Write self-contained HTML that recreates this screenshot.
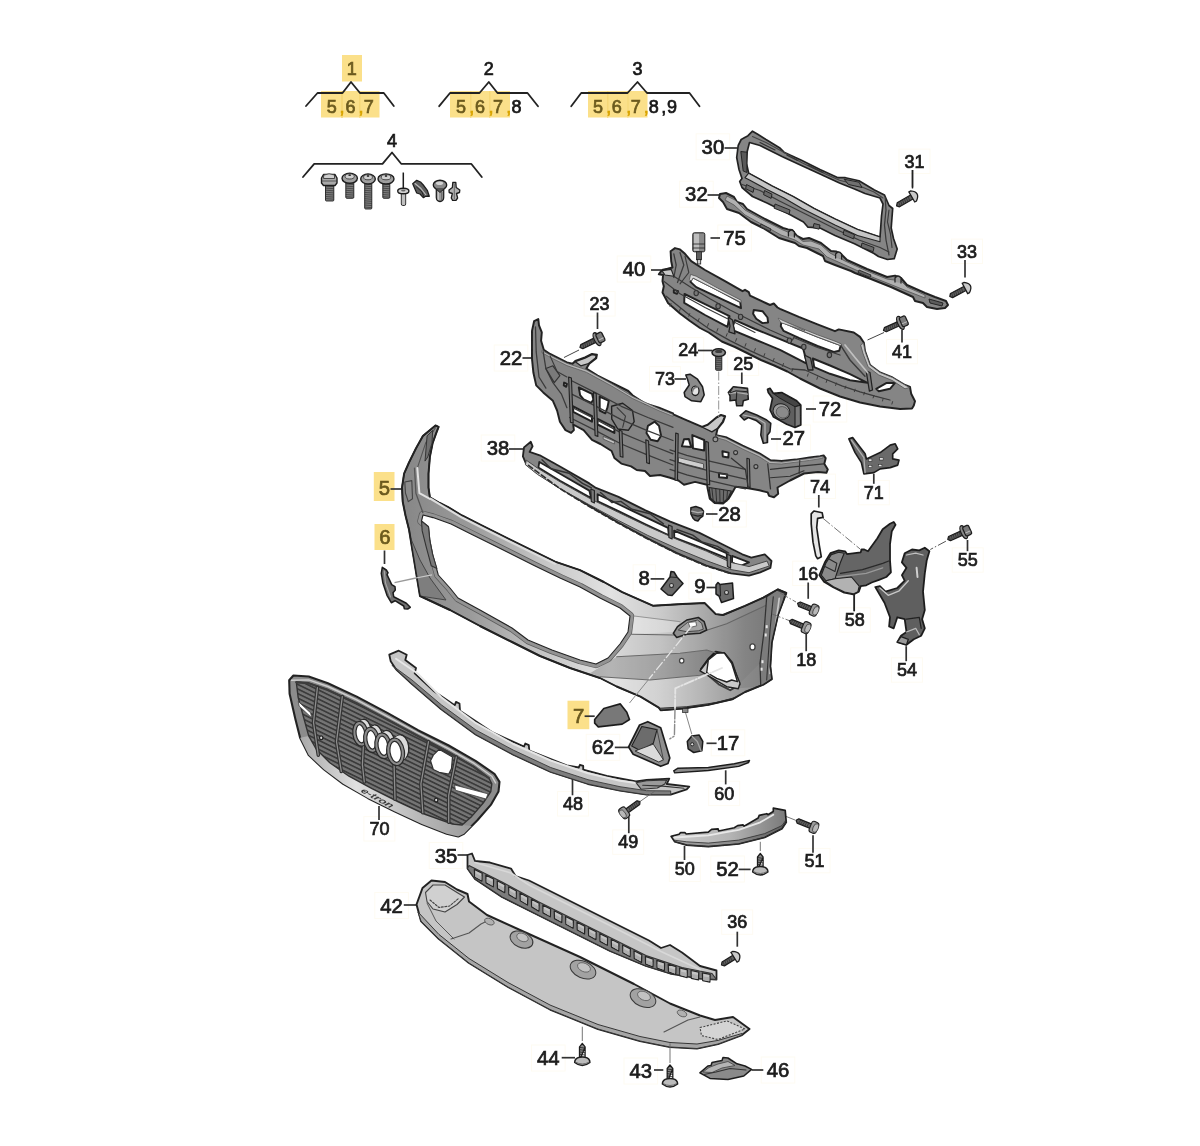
<!DOCTYPE html>
<html><head><meta charset="utf-8"><title>Parts diagram</title>
<style>
html,body{margin:0;padding:0;background:#fff;}
body{width:1200px;height:1146px;overflow:hidden;font-family:"Liberation Sans",sans-serif;}
svg{display:block;}
svg text{font-family:"Liberation Sans",sans-serif;}
</style></head><body>
<svg width="1200" height="1146" viewBox="0 0 1200 1146">
<defs><filter id="soft" x="0" y="0" width="100%" height="100%" filterUnits="userSpaceOnUse"><feGaussianBlur stdDeviation="0.45"/></filter></defs>
<rect x="0" y="0" width="1200" height="1146" fill="#ffffff"/>
<g filter="url(#soft)">
<rect x="342.0" y="55.0" width="20.0" height="26.5" fill="#fbe08a" stroke="none" stroke-width="0" />
<rect x="321.0" y="91.0" width="22.0" height="26.5" fill="#fbe08a" stroke="none" stroke-width="0" />
<rect x="341.0" y="91.0" width="19.5" height="26.5" fill="#fbe08a" stroke="none" stroke-width="0" />
<rect x="359.0" y="91.0" width="20.5" height="26.5" fill="#fbe08a" stroke="none" stroke-width="0" />
<rect x="341.0" y="91.0" width="2.0" height="26.5" fill="#f6d777" stroke="none" stroke-width="0" />
<rect x="359.0" y="91.0" width="1.5" height="26.5" fill="#f6d777" stroke="none" stroke-width="0" />
<polyline points="306.0,106.0 317.5,93.0 342.5,93.0 351.0,82.0 360.0,93.0 383.8,93.0 393.8,106.0" fill="none" stroke="#232323" stroke-width="1.8199999999999998" stroke-linejoin="round" stroke-linecap="round" />
<text x="351.8" y="75.2" font-size="18.0" text-anchor="middle" fill="#6b5a1e" stroke="#6b5a1e" stroke-width="0.72" >1</text>
<text x="331.8" y="112.5" font-size="18.0" text-anchor="middle" fill="#6b5a1e" stroke="#6b5a1e" stroke-width="0.72" >5</text>
<text x="350.5" y="112.5" font-size="18.0" text-anchor="middle" fill="#6b5a1e" stroke="#6b5a1e" stroke-width="0.72" >6</text>
<text x="368.8" y="112.5" font-size="18.0" text-anchor="middle" fill="#6b5a1e" stroke="#6b5a1e" stroke-width="0.72" >7</text>
<text x="342.0" y="112.5" font-size="18.0" text-anchor="middle" fill="#d9a400" stroke="#d9a400" stroke-width="0.72" >,</text>
<text x="361.0" y="112.5" font-size="18.0" text-anchor="middle" fill="#d9a400" stroke="#d9a400" stroke-width="0.72" >,</text>
<rect x="450.0" y="91.0" width="21.0" height="26.5" fill="#fbe08a" stroke="none" stroke-width="0" />
<rect x="470.0" y="91.0" width="20.0" height="26.5" fill="#fbe08a" stroke="none" stroke-width="0" />
<rect x="489.0" y="91.0" width="21.0" height="26.5" fill="#fbe08a" stroke="none" stroke-width="0" />
<rect x="470.0" y="91.0" width="1.5" height="26.5" fill="#f6d777" stroke="none" stroke-width="0" />
<rect x="489.0" y="91.0" width="1.5" height="26.5" fill="#f6d777" stroke="none" stroke-width="0" />
<polyline points="439.2,106.2 450.0,93.0 479.5,93.0 488.8,82.0 497.5,93.0 527.5,93.0 538.0,106.2" fill="none" stroke="#232323" stroke-width="1.8199999999999998" stroke-linejoin="round" stroke-linecap="round" />
<text x="488.8" y="75.2" font-size="18.0" text-anchor="middle" fill="#1a1a1a" stroke="#1a1a1a" stroke-width="0.72" >2</text>
<text x="461.0" y="112.5" font-size="18.0" text-anchor="middle" fill="#6b5a1e" stroke="#6b5a1e" stroke-width="0.72" >5</text>
<text x="480.0" y="112.5" font-size="18.0" text-anchor="middle" fill="#6b5a1e" stroke="#6b5a1e" stroke-width="0.72" >6</text>
<text x="498.0" y="112.5" font-size="18.0" text-anchor="middle" fill="#6b5a1e" stroke="#6b5a1e" stroke-width="0.72" >7</text>
<text x="471.8" y="112.5" font-size="18.0" text-anchor="middle" fill="#d9a400" stroke="#d9a400" stroke-width="0.72" >,</text>
<text x="491.0" y="112.5" font-size="18.0" text-anchor="middle" fill="#d9a400" stroke="#d9a400" stroke-width="0.72" >,</text>
<text x="508.8" y="112.5" font-size="18.0" text-anchor="middle" fill="#d9a400" stroke="#d9a400" stroke-width="0.72" >,</text>
<text x="516.5" y="112.5" font-size="18.0" text-anchor="middle" fill="#1a1a1a" stroke="#1a1a1a" stroke-width="0.72" >8</text>
<rect x="588.0" y="91.0" width="20.0" height="26.5" fill="#fbe08a" stroke="none" stroke-width="0" />
<rect x="607.0" y="91.0" width="21.0" height="26.5" fill="#fbe08a" stroke="none" stroke-width="0" />
<rect x="627.5" y="91.0" width="20.0" height="26.5" fill="#fbe08a" stroke="none" stroke-width="0" />
<rect x="607.0" y="91.0" width="1.5" height="26.5" fill="#f6d777" stroke="none" stroke-width="0" />
<rect x="627.5" y="91.0" width="1.0" height="26.5" fill="#f6d777" stroke="none" stroke-width="0" />
<polyline points="571.2,106.2 581.2,93.0 627.5,93.0 637.5,82.0 647.0,93.0 689.5,93.0 699.5,106.2" fill="none" stroke="#232323" stroke-width="1.8199999999999998" stroke-linejoin="round" stroke-linecap="round" />
<text x="637.5" y="75.2" font-size="18.0" text-anchor="middle" fill="#1a1a1a" stroke="#1a1a1a" stroke-width="0.72" >3</text>
<text x="598.0" y="112.5" font-size="18.0" text-anchor="middle" fill="#6b5a1e" stroke="#6b5a1e" stroke-width="0.72" >5</text>
<text x="616.8" y="112.5" font-size="18.0" text-anchor="middle" fill="#6b5a1e" stroke="#6b5a1e" stroke-width="0.72" >6</text>
<text x="635.8" y="112.5" font-size="18.0" text-anchor="middle" fill="#6b5a1e" stroke="#6b5a1e" stroke-width="0.72" >7</text>
<text x="608.8" y="112.5" font-size="18.0" text-anchor="middle" fill="#d9a400" stroke="#d9a400" stroke-width="0.72" >,</text>
<text x="628.8" y="112.5" font-size="18.0" text-anchor="middle" fill="#d9a400" stroke="#d9a400" stroke-width="0.72" >,</text>
<text x="646.2" y="112.5" font-size="18.0" text-anchor="middle" fill="#d9a400" stroke="#d9a400" stroke-width="0.72" >,</text>
<text x="653.8" y="112.5" font-size="18.0" text-anchor="middle" fill="#1a1a1a" stroke="#1a1a1a" stroke-width="0.72" >8</text>
<text x="663.8" y="112.5" font-size="18.0" text-anchor="middle" fill="#1a1a1a" stroke="#1a1a1a" stroke-width="0.72" >,</text>
<text x="672.0" y="112.5" font-size="18.0" text-anchor="middle" fill="#1a1a1a" stroke="#1a1a1a" stroke-width="0.72" >9</text>
<polyline points="303.0,177.0 314.2,163.8 382.5,163.8 392.0,152.5 401.2,163.8 471.2,163.8 481.8,177.0" fill="none" stroke="#232323" stroke-width="1.8199999999999998" stroke-linejoin="round" stroke-linecap="round" />
<text x="392.0" y="146.5" font-size="18.0" text-anchor="middle" fill="#1a1a1a" stroke="#1a1a1a" stroke-width="0.72" >4</text>
<rect x="373.8" y="472.0" width="20.7" height="29.0" fill="#fbe08a" stroke="none" stroke-width="0" />
<text x="384.5" y="495.0" font-size="20.3" text-anchor="middle" fill="#6b5a1e" stroke="#6b5a1e" stroke-width="0.72" >5</text>
<rect x="374.5" y="524.0" width="20.0" height="26.0" fill="#fbe08a" stroke="none" stroke-width="0" />
<text x="384.8" y="544.0" font-size="20.3" text-anchor="middle" fill="#6b5a1e" stroke="#6b5a1e" stroke-width="0.72" >6</text>
<rect x="567.5" y="700.7" width="21.8" height="28.5" fill="#fbe08a" stroke="none" stroke-width="0" />
<text x="578.6" y="723.3" font-size="20.3" text-anchor="middle" fill="#6b5a1e" stroke="#6b5a1e" stroke-width="0.72" >7</text>
<line x1="390.5" y1="489.0" x2="402.5" y2="489.0" stroke="#333" stroke-width="1.7" />
<line x1="384.5" y1="550.5" x2="384.5" y2="564.0" stroke="#333" stroke-width="1.7" />
<line x1="584.6" y1="716.2" x2="594.7" y2="716.2" stroke="#333" stroke-width="1.7" />
<rect x="696.1" y="133.8" width="33.6" height="26.0" fill="none" stroke="#fefbf2" stroke-width="1" />
<rect x="899.0" y="149.1" width="31.0" height="24.4" fill="none" stroke="#fefbf2" stroke-width="1" />
<rect x="679.6" y="181.2" width="33.6" height="26.0" fill="none" stroke="#fefbf2" stroke-width="1" />
<rect x="951.5" y="239.1" width="31.0" height="24.4" fill="none" stroke="#fefbf2" stroke-width="1" />
<rect x="717.8" y="225.0" width="33.6" height="26.0" fill="none" stroke="#fefbf2" stroke-width="1" />
<rect x="617.2" y="256.0" width="33.6" height="26.0" fill="none" stroke="#fefbf2" stroke-width="1" />
<rect x="886.5" y="339.4" width="31.0" height="24.4" fill="none" stroke="#fefbf2" stroke-width="1" />
<rect x="584.1" y="291.6" width="31.0" height="24.4" fill="none" stroke="#fefbf2" stroke-width="1" />
<rect x="494.2" y="345.0" width="33.6" height="26.0" fill="none" stroke="#fefbf2" stroke-width="1" />
<rect x="672.7" y="337.6" width="31.0" height="24.4" fill="none" stroke="#fefbf2" stroke-width="1" />
<rect x="727.7" y="351.1" width="31.0" height="24.4" fill="none" stroke="#fefbf2" stroke-width="1" />
<rect x="649.5" y="366.6" width="31.0" height="24.4" fill="none" stroke="#fefbf2" stroke-width="1" />
<rect x="813.2" y="396.0" width="33.6" height="26.0" fill="none" stroke="#fefbf2" stroke-width="1" />
<rect x="777.0" y="425.0" width="33.6" height="26.0" fill="none" stroke="#fefbf2" stroke-width="1" />
<rect x="481.2" y="435.0" width="33.6" height="26.0" fill="none" stroke="#fefbf2" stroke-width="1" />
<rect x="712.7" y="501.0" width="33.6" height="26.0" fill="none" stroke="#fefbf2" stroke-width="1" />
<rect x="858.3" y="480.4" width="31.0" height="24.4" fill="none" stroke="#fefbf2" stroke-width="1" />
<rect x="804.5" y="474.1" width="31.0" height="24.4" fill="none" stroke="#fefbf2" stroke-width="1" />
<rect x="633.1" y="564.8" width="22.3" height="26.0" fill="none" stroke="#fefbf2" stroke-width="1" />
<rect x="688.9" y="573.0" width="22.3" height="26.0" fill="none" stroke="#fefbf2" stroke-width="1" />
<rect x="792.7" y="561.1" width="31.0" height="24.4" fill="none" stroke="#fefbf2" stroke-width="1" />
<rect x="790.7" y="647.8" width="31.0" height="24.4" fill="none" stroke="#fefbf2" stroke-width="1" />
<rect x="952.2" y="547.8" width="31.0" height="24.4" fill="none" stroke="#fefbf2" stroke-width="1" />
<rect x="839.3" y="607.8" width="31.0" height="24.4" fill="none" stroke="#fefbf2" stroke-width="1" />
<rect x="891.4" y="657.8" width="31.0" height="24.4" fill="none" stroke="#fefbf2" stroke-width="1" />
<rect x="586.2" y="734.3" width="33.6" height="26.0" fill="none" stroke="#fefbf2" stroke-width="1" />
<rect x="711.2" y="729.8" width="33.6" height="26.0" fill="none" stroke="#fefbf2" stroke-width="1" />
<rect x="708.7" y="781.2" width="31.0" height="24.4" fill="none" stroke="#fefbf2" stroke-width="1" />
<rect x="557.5" y="791.6" width="31.0" height="24.4" fill="none" stroke="#fefbf2" stroke-width="1" />
<rect x="612.7" y="829.9" width="31.0" height="24.4" fill="none" stroke="#fefbf2" stroke-width="1" />
<rect x="363.9" y="816.6" width="31.0" height="24.4" fill="none" stroke="#fefbf2" stroke-width="1" />
<rect x="669.3" y="857.0" width="31.0" height="24.4" fill="none" stroke="#fefbf2" stroke-width="1" />
<rect x="710.8" y="856.0" width="33.6" height="26.0" fill="none" stroke="#fefbf2" stroke-width="1" />
<rect x="799.0" y="848.4" width="31.0" height="24.4" fill="none" stroke="#fefbf2" stroke-width="1" />
<rect x="429.2" y="842.5" width="33.6" height="26.0" fill="none" stroke="#fefbf2" stroke-width="1" />
<rect x="374.8" y="892.5" width="33.6" height="26.0" fill="none" stroke="#fefbf2" stroke-width="1" />
<rect x="721.7" y="909.9" width="31.0" height="24.4" fill="none" stroke="#fefbf2" stroke-width="1" />
<rect x="531.5" y="1045.0" width="33.6" height="26.0" fill="none" stroke="#fefbf2" stroke-width="1" />
<rect x="624.0" y="1058.0" width="33.6" height="26.0" fill="none" stroke="#fefbf2" stroke-width="1" />
<rect x="761.2" y="1057.0" width="33.6" height="26.0" fill="none" stroke="#fefbf2" stroke-width="1" />
<text x="712.9" y="153.8" font-size="20.3" text-anchor="middle" fill="#1c1c1c" stroke="#1c1c1c" stroke-width="0.72" >30</text>
<text x="914.5" y="167.5" font-size="18.0" text-anchor="middle" fill="#1c1c1c" stroke="#1c1c1c" stroke-width="0.72" >31</text>
<text x="696.4" y="201.2" font-size="20.3" text-anchor="middle" fill="#1c1c1c" stroke="#1c1c1c" stroke-width="0.72" >32</text>
<text x="967.0" y="257.5" font-size="18.0" text-anchor="middle" fill="#1c1c1c" stroke="#1c1c1c" stroke-width="0.72" >33</text>
<text x="734.6" y="245.0" font-size="20.3" text-anchor="middle" fill="#1c1c1c" stroke="#1c1c1c" stroke-width="0.72" >75</text>
<text x="634.0" y="276.0" font-size="20.3" text-anchor="middle" fill="#1c1c1c" stroke="#1c1c1c" stroke-width="0.72" >40</text>
<text x="902.0" y="357.8" font-size="18.0" text-anchor="middle" fill="#1c1c1c" stroke="#1c1c1c" stroke-width="0.72" >41</text>
<text x="599.6" y="310.0" font-size="18.0" text-anchor="middle" fill="#1c1c1c" stroke="#1c1c1c" stroke-width="0.72" >23</text>
<text x="511.0" y="365.0" font-size="20.3" text-anchor="middle" fill="#1c1c1c" stroke="#1c1c1c" stroke-width="0.72" >22</text>
<text x="688.2" y="356.0" font-size="18.0" text-anchor="middle" fill="#1c1c1c" stroke="#1c1c1c" stroke-width="0.72" >24</text>
<text x="743.2" y="369.5" font-size="18.0" text-anchor="middle" fill="#1c1c1c" stroke="#1c1c1c" stroke-width="0.72" >25</text>
<text x="665.0" y="385.0" font-size="18.0" text-anchor="middle" fill="#1c1c1c" stroke="#1c1c1c" stroke-width="0.72" >73</text>
<text x="830.0" y="416.0" font-size="20.3" text-anchor="middle" fill="#1c1c1c" stroke="#1c1c1c" stroke-width="0.72" >72</text>
<text x="793.8" y="445.0" font-size="20.3" text-anchor="middle" fill="#1c1c1c" stroke="#1c1c1c" stroke-width="0.72" >27</text>
<text x="498.0" y="455.0" font-size="20.3" text-anchor="middle" fill="#1c1c1c" stroke="#1c1c1c" stroke-width="0.72" >38</text>
<text x="729.5" y="521.0" font-size="20.3" text-anchor="middle" fill="#1c1c1c" stroke="#1c1c1c" stroke-width="0.72" >28</text>
<text x="873.8" y="498.8" font-size="18.0" text-anchor="middle" fill="#1c1c1c" stroke="#1c1c1c" stroke-width="0.72" >71</text>
<text x="820.0" y="492.5" font-size="18.0" text-anchor="middle" fill="#1c1c1c" stroke="#1c1c1c" stroke-width="0.72" >74</text>
<text x="644.2" y="584.8" font-size="20.3" text-anchor="middle" fill="#1c1c1c" stroke="#1c1c1c" stroke-width="0.72" >8</text>
<text x="700.0" y="593.0" font-size="20.3" text-anchor="middle" fill="#1c1c1c" stroke="#1c1c1c" stroke-width="0.72" >9</text>
<text x="808.2" y="579.5" font-size="18.0" text-anchor="middle" fill="#1c1c1c" stroke="#1c1c1c" stroke-width="0.72" >16</text>
<text x="806.2" y="666.2" font-size="18.0" text-anchor="middle" fill="#1c1c1c" stroke="#1c1c1c" stroke-width="0.72" >18</text>
<text x="967.7" y="566.2" font-size="18.0" text-anchor="middle" fill="#1c1c1c" stroke="#1c1c1c" stroke-width="0.72" >55</text>
<text x="854.8" y="626.2" font-size="18.0" text-anchor="middle" fill="#1c1c1c" stroke="#1c1c1c" stroke-width="0.72" >58</text>
<text x="906.9" y="676.2" font-size="18.0" text-anchor="middle" fill="#1c1c1c" stroke="#1c1c1c" stroke-width="0.72" >54</text>
<text x="603.0" y="754.3" font-size="20.3" text-anchor="middle" fill="#1c1c1c" stroke="#1c1c1c" stroke-width="0.72" >62</text>
<text x="728.0" y="749.8" font-size="20.3" text-anchor="middle" fill="#1c1c1c" stroke="#1c1c1c" stroke-width="0.72" >17</text>
<text x="724.2" y="799.6" font-size="18.0" text-anchor="middle" fill="#1c1c1c" stroke="#1c1c1c" stroke-width="0.72" >60</text>
<text x="573.0" y="810.0" font-size="18.0" text-anchor="middle" fill="#1c1c1c" stroke="#1c1c1c" stroke-width="0.72" >48</text>
<text x="628.2" y="848.3" font-size="18.0" text-anchor="middle" fill="#1c1c1c" stroke="#1c1c1c" stroke-width="0.72" >49</text>
<text x="379.4" y="835.0" font-size="18.0" text-anchor="middle" fill="#1c1c1c" stroke="#1c1c1c" stroke-width="0.72" >70</text>
<text x="684.8" y="875.4" font-size="18.0" text-anchor="middle" fill="#1c1c1c" stroke="#1c1c1c" stroke-width="0.72" >50</text>
<text x="727.6" y="876.0" font-size="20.3" text-anchor="middle" fill="#1c1c1c" stroke="#1c1c1c" stroke-width="0.72" >52</text>
<text x="814.5" y="866.8" font-size="18.0" text-anchor="middle" fill="#1c1c1c" stroke="#1c1c1c" stroke-width="0.72" >51</text>
<text x="446.0" y="862.5" font-size="20.3" text-anchor="middle" fill="#1c1c1c" stroke="#1c1c1c" stroke-width="0.72" >35</text>
<text x="391.6" y="912.5" font-size="20.3" text-anchor="middle" fill="#1c1c1c" stroke="#1c1c1c" stroke-width="0.72" >42</text>
<text x="737.2" y="928.3" font-size="18.0" text-anchor="middle" fill="#1c1c1c" stroke="#1c1c1c" stroke-width="0.72" >36</text>
<text x="548.3" y="1065.0" font-size="20.3" text-anchor="middle" fill="#1c1c1c" stroke="#1c1c1c" stroke-width="0.72" >44</text>
<text x="640.8" y="1078.0" font-size="20.3" text-anchor="middle" fill="#1c1c1c" stroke="#1c1c1c" stroke-width="0.72" >43</text>
<text x="778.0" y="1077.0" font-size="20.3" text-anchor="middle" fill="#1c1c1c" stroke="#1c1c1c" stroke-width="0.72" >46</text>
<line x1="724.5" y1="148.0" x2="737.5" y2="148.0" stroke="#333333" stroke-width="1.7" />
<line x1="912.5" y1="170.0" x2="912.5" y2="187.5" stroke="#333333" stroke-width="1.7" />
<line x1="707.5" y1="195.0" x2="720.0" y2="195.0" stroke="#333333" stroke-width="1.7" />
<line x1="965.0" y1="260.0" x2="965.0" y2="277.5" stroke="#333333" stroke-width="1.7" />
<line x1="710.5" y1="238.0" x2="720.0" y2="238.0" stroke="#333333" stroke-width="1.7" />
<line x1="651.0" y1="270.0" x2="661.0" y2="270.0" stroke="#333333" stroke-width="1.7" />
<line x1="902.0" y1="330.0" x2="902.0" y2="342.5" stroke="#333333" stroke-width="1.7" />
<line x1="597.5" y1="312.5" x2="597.5" y2="329.0" stroke="#333333" stroke-width="1.7" />
<line x1="522.5" y1="358.0" x2="532.5" y2="358.0" stroke="#333333" stroke-width="1.7" />
<line x1="698.0" y1="350.5" x2="712.5" y2="350.5" stroke="#333333" stroke-width="1.7" />
<line x1="741.8" y1="372.5" x2="741.8" y2="384.0" stroke="#333333" stroke-width="1.7" />
<line x1="674.5" y1="379.0" x2="686.0" y2="379.0" stroke="#333333" stroke-width="1.7" />
<line x1="806.0" y1="409.0" x2="816.0" y2="409.0" stroke="#333333" stroke-width="1.7" />
<line x1="771.0" y1="439.0" x2="781.0" y2="439.0" stroke="#333333" stroke-width="1.7" />
<line x1="509.0" y1="449.0" x2="523.0" y2="449.0" stroke="#333333" stroke-width="1.7" />
<line x1="706.0" y1="514.0" x2="717.5" y2="514.0" stroke="#333333" stroke-width="1.7" />
<line x1="873.8" y1="473.8" x2="873.8" y2="483.8" stroke="#333333" stroke-width="1.7" />
<line x1="818.8" y1="495.0" x2="818.8" y2="507.5" stroke="#333333" stroke-width="1.7" />
<line x1="650.6" y1="578.9" x2="664.3" y2="578.9" stroke="#333333" stroke-width="1.7" />
<line x1="706.5" y1="587.5" x2="716.6" y2="587.5" stroke="#333333" stroke-width="1.7" />
<line x1="808.2" y1="582.5" x2="808.2" y2="598.8" stroke="#333333" stroke-width="1.7" />
<line x1="806.2" y1="633.8" x2="806.2" y2="651.2" stroke="#333333" stroke-width="1.7" />
<line x1="967.5" y1="540.0" x2="967.5" y2="551.2" stroke="#333333" stroke-width="1.7" />
<line x1="854.2" y1="593.8" x2="854.2" y2="611.2" stroke="#333333" stroke-width="1.7" />
<line x1="906.2" y1="646.2" x2="906.2" y2="661.2" stroke="#333333" stroke-width="1.7" />
<line x1="614.8" y1="747.4" x2="628.6" y2="747.4" stroke="#333333" stroke-width="1.7" />
<line x1="706.5" y1="743.3" x2="716.6" y2="743.3" stroke="#333333" stroke-width="1.7" />
<line x1="725.7" y1="770.3" x2="725.7" y2="784.4" stroke="#333333" stroke-width="1.7" />
<line x1="572.5" y1="779.3" x2="572.5" y2="795.3" stroke="#333333" stroke-width="1.7" />
<line x1="628.8" y1="816.9" x2="628.8" y2="833.2" stroke="#333333" stroke-width="1.7" />
<line x1="379.0" y1="806.0" x2="379.0" y2="820.0" stroke="#333333" stroke-width="1.7" />
<line x1="684.5" y1="846.0" x2="684.5" y2="860.0" stroke="#333333" stroke-width="1.7" />
<line x1="738.7" y1="869.4" x2="750.6" y2="869.4" stroke="#333333" stroke-width="1.7" />
<line x1="813.0" y1="835.3" x2="813.0" y2="852.7" stroke="#333333" stroke-width="1.7" />
<line x1="457.5" y1="855.0" x2="467.5" y2="855.0" stroke="#333333" stroke-width="1.7" />
<line x1="403.8" y1="905.0" x2="416.0" y2="905.0" stroke="#333333" stroke-width="1.7" />
<line x1="737.3" y1="931.7" x2="737.3" y2="946.7" stroke="#333333" stroke-width="1.7" />
<line x1="561.7" y1="1057.7" x2="575.0" y2="1057.7" stroke="#333333" stroke-width="1.7" />
<line x1="654.0" y1="1070.0" x2="663.3" y2="1070.0" stroke="#333333" stroke-width="1.7" />
<line x1="751.7" y1="1070.0" x2="763.3" y2="1070.0" stroke="#333333" stroke-width="1.7" />
<path d="M752.5 131.2 L757.7 134.2 L766.0 139.5 L779.5 147.7 L784.0 152.2 L802.0 160.5 L820.0 169.5 L838.0 177.7 L845.5 177.7 L859.0 180.7 L874.0 189.7 L884.5 195.0 L889.0 205.5 L892.7 208.5 L892.0 217.5 L891.2 228.0 L893.5 238.5 L897.2 249.0 L894.2 258.7 L887.5 259.5 L878.5 256.5 L874.0 253.5 L854.5 243.7 L835.0 235.5 L820.0 228.0 L808.0 227.2 L803.5 222.0 L787.0 213.0 L767.5 203.2 L752.5 196.5 L742.0 187.5 L739.7 181.5 L742.0 178.5 L739.0 169.5 L736.7 157.5 L738.2 145.5 L741.2 139.5 L748.0 135.7 Z M749.5 142.5 L760.0 145.5 L779.5 155.2 L782.5 156.7 L802.0 165.7 L820.0 174.0 L839.5 183.0 L854.5 189.0 L865.0 193.5 L880.0 198.0 L883.0 204.0 L881.5 216.0 L880.7 228.0 L880.0 237.0 L857.5 229.5 L835.0 219.0 L814.0 208.5 L793.0 196.5 L772.0 186.0 L757.0 177.7 L748.7 173.2 L746.5 163.5 L747.2 151.5 Z " fill="#858585" fill-rule="evenodd" stroke="#232323" stroke-width="1.68" stroke-linejoin="round"/>
<polygon points="748.7,173.2 757.0,177.7 772.0,186.0 793.0,196.5 814.0,208.5 835.0,219.0 857.5,229.5 880.0,237.0 880.0,241.8 857.5,235.5 835.0,225.0 820.0,217.5 802.0,208.5 784.0,198.0 766.0,189.0 749.5,180.0 745.0,177.7" fill="#c6c6c6" stroke="#232323" stroke-width="1.1199999999999999" stroke-linejoin="round" />
<polygon points="740.8,151.5 746.9,152.2 746.9,172.5 743.2,171.0" fill="#5a5a5a" stroke="#232323" stroke-width="0.9799999999999999" stroke-linejoin="round" />
<polyline points="752.5,136.5 766.0,142.5 781.0,150.7 802.0,162.7 820.0,171.4 839.5,180.3 856.0,184.5 874.0,192.0 883.0,198.0" fill="none" stroke="#444" stroke-width="1.1199999999999999" stroke-linejoin="round" stroke-linecap="round" />
<polyline points="760.0,142.5 775.0,150.0" fill="none" stroke="#333" stroke-width="1.1199999999999999" stroke-linejoin="round" stroke-linecap="round" />
<polyline points="787.0,155.2 797.5,160.5" fill="none" stroke="#333" stroke-width="1.1199999999999999" stroke-linejoin="round" stroke-linecap="round" />
<polyline points="808.0,165.0 823.0,172.5" fill="none" stroke="#333" stroke-width="1.1199999999999999" stroke-linejoin="round" stroke-linecap="round" />
<polygon points="844.0,179.2 859.0,182.2 862.0,187.5 848.5,184.5" fill="#707070" stroke="#232323" stroke-width="0.9799999999999999" stroke-linejoin="round" />
<polyline points="742.0,184.5 760.0,190.5 779.5,201.0 802.0,212.2 820.0,221.2 838.0,230.2 859.0,240.0 880.0,247.5 889.0,252.0" fill="none" stroke="#3a3a3a" stroke-width="1.26" stroke-linejoin="round" stroke-linecap="round" />
<polygon points="746.5,184.5 754.0,188.2 753.1,192.4 745.6,188.7" fill="#6a6a6a" stroke="#232323" stroke-width="0.9799999999999999" stroke-linejoin="round" />
<polygon points="764.5,190.5 772.0,194.2 771.1,198.4 763.6,194.7" fill="#6a6a6a" stroke="#232323" stroke-width="0.9799999999999999" stroke-linejoin="round" />
<polygon points="775.0,204.0 790.0,210.0 789.1,214.2 774.1,208.2" fill="#6a6a6a" stroke="#232323" stroke-width="0.9799999999999999" stroke-linejoin="round" />
<polygon points="814.0,223.5 820.0,225.0 819.1,229.2 813.1,227.7" fill="#6a6a6a" stroke="#232323" stroke-width="0.9799999999999999" stroke-linejoin="round" />
<polygon points="844.0,230.2 854.5,234.7 853.6,238.9 843.1,234.4" fill="#6a6a6a" stroke="#232323" stroke-width="0.9799999999999999" stroke-linejoin="round" />
<polygon points="862.0,243.0 874.0,247.5 873.1,251.7 861.1,247.2" fill="#6a6a6a" stroke="#232323" stroke-width="0.9799999999999999" stroke-linejoin="round" />
<polyline points="885.2,198.0 886.0,210.0 884.5,225.0 886.0,240.0 889.0,255.0" fill="none" stroke="#3a3a3a" stroke-width="1.26" stroke-linejoin="round" stroke-linecap="round" />
<polyline points="889.0,210.0 887.5,222.0 890.5,234.0 892.0,247.5" fill="none" stroke="#3a3a3a" stroke-width="1.1199999999999999" stroke-linejoin="round" stroke-linecap="round" />
<polygon points="720.0,194.0 726.0,193.0 734.0,197.0 737.0,202.0 743.0,204.0 747.0,209.0 765.0,219.0 783.0,228.0 788.0,229.4 792.0,230.0 797.0,236.0 803.0,239.0 809.0,238.0 821.0,243.0 831.0,251.0 836.0,251.4 841.0,254.0 847.0,260.0 867.0,269.0 887.0,277.0 895.0,275.6 901.0,278.0 907.0,285.0 925.0,293.0 935.0,297.0 946.0,301.0 948.0,305.0 945.0,308.0 937.0,309.0 927.0,307.0 923.0,303.0 915.0,301.0 913.0,297.0 891.0,287.0 871.0,279.0 855.0,273.0 851.0,271.0 835.0,265.0 825.0,261.0 823.0,256.0 807.0,248.0 799.0,246.0 795.0,243.0 779.0,238.0 763.0,228.0 751.0,222.0 739.0,213.0 727.0,209.0 723.0,202.0 719.0,198.0" fill="#858585" stroke="#232323" stroke-width="1.9599999999999997" stroke-linejoin="round" />
<polygon points="727.0,196.0 735.0,200.0 745.0,210.0 765.0,221.0 783.0,230.0 795.0,235.0 803.0,241.4 811.0,241.0 821.0,245.0 830.0,253.0 845.0,261.0 867.0,271.0 887.0,279.0 901.0,281.0 907.0,287.0 925.0,295.0 925.0,298.0 907.0,291.0 887.0,283.0 867.0,275.0 845.0,265.0 827.0,257.0 819.0,249.0 803.0,245.0 795.0,240.0 781.0,235.0 763.0,225.0 745.0,215.0 734.0,205.0 725.0,200.0" fill="#b0b0b0" stroke="#555" stroke-width="0.84" stroke-linejoin="round" />
<path d="M788.4 236.0 l0 -4 q3 -4 6 0 l0 5" fill="#9a9a9a" stroke="#232323" stroke-width="1.26" stroke-linejoin="round" stroke-linecap="round" />
<path d="M835.6 258.0 l0 -4 q3 -4 6 0 l0 5" fill="#9a9a9a" stroke="#232323" stroke-width="1.26" stroke-linejoin="round" stroke-linecap="round" />
<path d="M895.0 282.0 l0 -4 q3 -4 6 0 l0 5" fill="#9a9a9a" stroke="#232323" stroke-width="1.26" stroke-linejoin="round" stroke-linecap="round" />
<polygon points="929.0,299.0 943.0,303.0 942.0,306.0 930.0,303.0" fill="#5c5c5c" stroke="#232323" stroke-width="0.9799999999999999" stroke-linejoin="round" />
<polygon points="761.0,224.0 771.0,229.0 770.0,231.4 760.0,226.4" fill="#666" stroke="#232323" stroke-width="0.84" stroke-linejoin="round" />
<polygon points="859.0,270.0 871.0,275.0 870.0,277.4 858.0,272.4" fill="#666" stroke="#232323" stroke-width="0.84" stroke-linejoin="round" />
<path d="M670.6 251.2 L675.0 248.1 L680.0 249.4 L685.0 253.8 L691.2 261.2 L705.0 270.0 L725.0 281.2 L742.5 291.2 L745.0 289.8 L748.8 292.2 L750.0 295.6 L770.0 305.0 L773.8 303.5 L777.5 307.5 L780.0 308.8 L798.8 316.9 L817.5 324.4 L835.0 331.2 L838.8 329.4 L853.8 332.5 L860.0 336.9 L863.8 342.5 L865.0 351.2 L870.0 365.0 L880.0 372.5 L892.5 377.5 L905.0 385.0 L910.0 386.9 L911.2 393.8 L915.0 401.2 L913.8 405.6 L912.0 408.5 L900.0 409.0 L880.0 406.5 L860.0 402.5 L840.0 396.5 L820.0 388.5 L800.0 378.5 L787.3 371.5 L774.2 365.5 L761.0 360.0 L748.0 353.5 L734.9 347.0 L721.8 341.5 L708.7 332.5 L700.0 328.0 L690.0 321.0 L680.0 313.5 L668.0 303.0 L662.5 292.5 L663.8 286.2 L662.5 281.2 L663.1 275.0 L658.8 274.4 L661.9 270.0 L667.5 268.8 L672.5 267.5 L671.2 261.2 Z M692.5 277.2 L717.5 290.0 L740.2 301.8 L741.0 308.2 L717.5 297.1 L696.2 287.1 L690.5 281.9 Z M684.5 294.0 L705.0 304.2 L729.5 316.2 L727.5 326.8 L705.0 315.0 L684.2 302.8 Z M735.0 320.2 L755.0 329.0 L780.0 339.2 L803.1 348.5 L807.2 363.8 L780.0 349.8 L755.0 339.5 L734.5 330.8 L732.8 326.2 Z M753.8 310.0 L762.5 311.2 L767.5 317.5 L768.1 322.5 L762.5 323.1 L756.2 318.8 L753.1 313.8 Z M781.5 321.5 L798.8 329.0 L817.5 336.5 L835.0 343.0 L840.8 345.2 L839.2 350.8 L833.8 352.0 L817.5 346.0 L798.8 337.9 L783.5 330.8 L780.8 326.2 Z M812.8 358.5 L830.0 365.5 L850.0 374.2 L867.5 382.8 L850.0 380.2 L830.0 373.8 L814.2 367.2 Z M876.2 388.8 L886.2 383.1 L895.0 382.8 L890.0 388.8 L878.8 391.2 Z M673.8 290.0 L678.1 291.2 L676.9 293.8 L673.8 292.5 Z " fill="#858585" fill-rule="evenodd" stroke="#232323" stroke-width="1.9599999999999997" stroke-linejoin="round"/>
<polygon points="690.6,274.4 696.2,276.2 717.5,288.0 741.0,300.2 741.2,302.5 717.5,290.5 693.1,278.1 691.2,281.2 689.4,279.4" fill="#d8d8d8" stroke="#555" stroke-width="0.84" stroke-linejoin="round" />
<polygon points="780.8,320.0 798.8,327.2 817.5,334.8 835.0,341.2 841.5,344.0 841.0,345.8 835.0,343.5 817.5,337.0 798.8,329.5 781.2,322.0" fill="#d8d8d8" stroke="#555" stroke-width="0.84" stroke-linejoin="round" />
<polygon points="778.1,318.1 781.9,320.0 805.0,330.6 781.2,322.8 780.0,321.2" fill="#d0d0d0" stroke="#555" stroke-width="0.7" stroke-linejoin="round" />
<polygon points="860.6,345.0 863.5,343.1 865.0,351.2 870.0,365.0 880.0,372.5 892.5,377.5 905.0,385.0 909.4,387.5 905.0,388.8 892.5,380.6 878.8,375.0 868.1,366.9 863.1,353.8" fill="#c4c4c4" stroke="#555" stroke-width="0.84" stroke-linejoin="round" />
<polyline points="673.8,276.2 691.2,287.5 710.0,298.8 730.0,310.0 750.0,320.0 770.0,330.0 792.5,340.0 793.8,337.5 817.5,347.5 840.0,355.0" fill="none" stroke="#3a3a3a" stroke-width="1.26" stroke-linejoin="round" stroke-linecap="round" />
<polyline points="663.8,281.2 680.0,293.8 705.0,307.5 730.0,320.0 755.0,332.5" fill="none" stroke="#3a3a3a" stroke-width="1.1199999999999999" stroke-linejoin="round" stroke-linecap="round" />
<polyline points="666.2,296.2 690.0,315.6 710.0,329.4 730.0,340.6 750.0,350.6 770.0,359.8 790.0,368.8 805.0,370.0 825.0,379.0 842.5,386.2 860.0,391.9 875.0,396.2 890.0,400.0" fill="none" stroke="#3a3a3a" stroke-width="1.26" stroke-linejoin="round" stroke-linecap="round" />
<polygon points="728.1,316.9 732.5,320.0 735.0,333.8 728.8,331.9 730.0,326.2" fill="#7a7a7a" stroke="#232323" stroke-width="1.26" stroke-linejoin="round" />
<polygon points="804.4,355.0 810.6,358.1 813.1,370.0 808.1,370.0" fill="#7a7a7a" stroke="#232323" stroke-width="1.26" stroke-linejoin="round" />
<polygon points="866.2,371.2 870.0,372.5 872.5,390.0 869.4,391.2" fill="#7a7a7a" stroke="#232323" stroke-width="1.26" stroke-linejoin="round" />
<polyline points="841.2,346.2 850.0,360.0 865.0,376.2" fill="none" stroke="#3a3a3a" stroke-width="1.4" stroke-linejoin="round" stroke-linecap="round" />
<polyline points="845.0,345.0 855.0,357.5 867.5,372.5" fill="none" stroke="#c0c0c0" stroke-width="1.68" stroke-linejoin="round" stroke-linecap="round" />
<polyline points="670.0,306.3 671.0,303.6" fill="none" stroke="#3a3a3a" stroke-width="0.9799999999999999" stroke-linejoin="round" stroke-linecap="round" />
<polyline points="679.4,311.3 680.4,308.6" fill="none" stroke="#3a3a3a" stroke-width="0.9799999999999999" stroke-linejoin="round" stroke-linecap="round" />
<polyline points="688.8,316.3 689.8,313.6" fill="none" stroke="#3a3a3a" stroke-width="0.9799999999999999" stroke-linejoin="round" stroke-linecap="round" />
<polyline points="698.1,321.3 699.1,318.6" fill="none" stroke="#3a3a3a" stroke-width="0.9799999999999999" stroke-linejoin="round" stroke-linecap="round" />
<polyline points="707.5,326.3 708.5,323.6" fill="none" stroke="#3a3a3a" stroke-width="0.9799999999999999" stroke-linejoin="round" stroke-linecap="round" />
<polyline points="716.9,331.3 717.9,328.6" fill="none" stroke="#3a3a3a" stroke-width="0.9799999999999999" stroke-linejoin="round" stroke-linecap="round" />
<polyline points="726.2,336.3 727.2,333.6" fill="none" stroke="#3a3a3a" stroke-width="0.9799999999999999" stroke-linejoin="round" stroke-linecap="round" />
<polyline points="735.6,341.3 736.6,338.6" fill="none" stroke="#3a3a3a" stroke-width="0.9799999999999999" stroke-linejoin="round" stroke-linecap="round" />
<polyline points="745.0,346.3 746.0,343.6" fill="none" stroke="#3a3a3a" stroke-width="0.9799999999999999" stroke-linejoin="round" stroke-linecap="round" />
<polyline points="754.4,351.3 755.4,348.6" fill="none" stroke="#3a3a3a" stroke-width="0.9799999999999999" stroke-linejoin="round" stroke-linecap="round" />
<polyline points="763.8,356.3 764.8,353.6" fill="none" stroke="#3a3a3a" stroke-width="0.9799999999999999" stroke-linejoin="round" stroke-linecap="round" />
<polyline points="773.1,361.3 774.1,358.5" fill="none" stroke="#3a3a3a" stroke-width="0.9799999999999999" stroke-linejoin="round" stroke-linecap="round" />
<polyline points="782.5,366.3 783.5,363.5" fill="none" stroke="#3a3a3a" stroke-width="0.9799999999999999" stroke-linejoin="round" stroke-linecap="round" />
<polyline points="791.9,371.3 792.9,368.5" fill="none" stroke="#3a3a3a" stroke-width="0.9799999999999999" stroke-linejoin="round" stroke-linecap="round" />
<polyline points="807.5,376.2 808.2,373.8" fill="none" stroke="#3a3a3a" stroke-width="0.9799999999999999" stroke-linejoin="round" stroke-linecap="round" />
<polyline points="816.9,379.3 817.6,376.8" fill="none" stroke="#3a3a3a" stroke-width="0.9799999999999999" stroke-linejoin="round" stroke-linecap="round" />
<polyline points="826.2,382.4 827.0,379.9" fill="none" stroke="#3a3a3a" stroke-width="0.9799999999999999" stroke-linejoin="round" stroke-linecap="round" />
<polyline points="835.6,385.5 836.4,383.0" fill="none" stroke="#3a3a3a" stroke-width="0.9799999999999999" stroke-linejoin="round" stroke-linecap="round" />
<polyline points="845.0,388.6 845.8,386.1" fill="none" stroke="#3a3a3a" stroke-width="0.9799999999999999" stroke-linejoin="round" stroke-linecap="round" />
<polyline points="854.4,391.7 855.1,389.2" fill="none" stroke="#3a3a3a" stroke-width="0.9799999999999999" stroke-linejoin="round" stroke-linecap="round" />
<polyline points="863.8,394.8 864.5,392.3" fill="none" stroke="#3a3a3a" stroke-width="0.9799999999999999" stroke-linejoin="round" stroke-linecap="round" />
<polyline points="873.1,397.9 873.9,395.4" fill="none" stroke="#3a3a3a" stroke-width="0.9799999999999999" stroke-linejoin="round" stroke-linecap="round" />
<polyline points="882.5,401.0 883.2,398.5" fill="none" stroke="#3a3a3a" stroke-width="0.9799999999999999" stroke-linejoin="round" stroke-linecap="round" />
<polyline points="891.9,404.1 892.6,401.6" fill="none" stroke="#3a3a3a" stroke-width="0.9799999999999999" stroke-linejoin="round" stroke-linecap="round" />
<polyline points="673.8,253.8 676.2,265.0 673.8,277.5" fill="none" stroke="#3a3a3a" stroke-width="1.26" stroke-linejoin="round" stroke-linecap="round" />
<polyline points="680.0,252.5 683.8,265.0 677.5,282.5" fill="none" stroke="#3a3a3a" stroke-width="1.26" stroke-linejoin="round" stroke-linecap="round" />
<polyline points="685.0,256.2 688.8,272.5 680.0,283.8" fill="none" stroke="#3a3a3a" stroke-width="1.1199999999999999" stroke-linejoin="round" stroke-linecap="round" />
<polygon points="661.9,270.6 671.2,269.4 673.8,276.2 665.0,275.0" fill="#c8c8c8" stroke="#232323" stroke-width="1.1199999999999999" stroke-linejoin="round" />
<ellipse cx="696.2" cy="293.1" rx="2.2" ry="2.6" fill="#777" stroke="#333" stroke-width="1.1199999999999999" />
<ellipse cx="718.1" cy="306.2" rx="2.2" ry="2.6" fill="#777" stroke="#333" stroke-width="1.1199999999999999" />
<ellipse cx="740.6" cy="316.9" rx="2.2" ry="2.6" fill="#777" stroke="#333" stroke-width="1.1199999999999999" />
<ellipse cx="789.4" cy="340.6" rx="2.2" ry="2.6" fill="#777" stroke="#333" stroke-width="1.1199999999999999" />
<ellipse cx="803.8" cy="346.9" rx="2.2" ry="2.6" fill="#777" stroke="#333" stroke-width="1.1199999999999999" />
<ellipse cx="829.4" cy="355.0" rx="2.2" ry="2.6" fill="#777" stroke="#333" stroke-width="1.1199999999999999" />
<path d="M534.1 321.2 L538.3 319.1 L539.0 325.4 L541.8 332.3 L541.1 340.7 L543.8 349.8 L550.1 354.0 L558.5 358.2 L566.9 362.4 L572.5 363.8 L575.3 361.0 L585.0 357.5 L592.0 354.0 L596.9 354.7 L596.2 358.2 L589.2 363.8 L586.4 368.6 L597.6 375.6 L611.6 382.6 L628.3 391.0 L632.5 395.2 L645.1 403.5 L659.0 407.7 L673.0 413.3 L670.0 412.8 L684.0 419.1 L702.1 426.8 L707.7 424.7 L716.1 417.7 L721.0 414.9 L725.1 416.3 L723.1 421.9 L717.5 428.9 L716.1 435.1 L725.8 437.2 L742.6 445.6 L759.4 453.3 L770.5 460.3 L781.7 461.0 L795.7 459.6 L809.6 457.5 L820.1 456.1 L823.6 455.4 L825.7 458.2 L824.3 463.8 L827.8 469.4 L826.4 472.8 L818.0 472.1 L804.0 473.5 L790.1 480.5 L777.5 487.5 L778.2 493.8 L774.0 497.3 L769.1 495.9 L767.7 492.4 L759.4 490.3 L748.2 488.2 L735.6 486.8 L732.8 491.7 L728.6 498.7 L723.1 503.6 L714.7 502.9 L709.8 498.7 L707.7 488.9 L707.0 484.7 L695.1 481.9 L684.0 484.7 L678.4 480.5 L670.0 477.7 L660.0 475.0 L650.0 476.0 L645.0 471.0 L636.7 470.0 L631.1 466.4 L621.3 463.6 L614.4 458.0 L611.6 451.0 L600.4 444.0 L592.0 439.8 L583.6 430.1 L573.2 424.5 L573.9 430.1 L571.1 432.9 L565.5 430.1 L559.9 421.7 L557.1 410.5 L552.9 400.8 L543.2 392.4 L536.2 385.4 L533.4 372.8 L532.0 358.9 L532.0 330.9 Z M578.8 387.5 L592.0 393.8 L593.4 399.4 L591.3 402.8 L583.6 399.4 L580.1 395.2 Z M599.7 396.6 L608.8 400.8 L607.4 407.7 L605.3 413.3 L599.7 410.5 Z M573.2 406.3 L592.0 416.1 L592.0 421.7 L573.2 411.9 Z M597.6 418.9 L614.4 427.3 L614.4 432.9 L597.6 424.5 Z M647.9 425.9 L654.8 421.7 L659.0 425.9 L661.1 435.7 L657.6 441.2 L650.7 439.8 L646.5 432.9 Z M564.1 382.6 L566.9 384.0 L566.2 386.8 L563.8 385.4 Z M681.9 446.3 L684.0 439.3 L688.8 438.9 L691.2 447.0 Z M692.3 435.1 L704.2 440.0 L704.2 450.5 L693.0 448.4 Z M722.4 451.2 L728.6 452.6 L728.4 457.5 L722.8 456.5 Z M718.9 473.3 L727.2 474.4 L727.0 478.0 L719.1 477.2 Z " fill="#858585" fill-rule="evenodd" stroke="#232323" stroke-width="1.9599999999999997" stroke-linejoin="round"/>
<polygon points="611.6,406.3 622.7,403.3 632.5,410.5 634.2,421.7 628.3,430.3 617.8,429.0 611.8,419.2" fill="#828282" stroke="#232323" stroke-width="1.4" stroke-linejoin="round" />
<polyline points="617.1,407.7 625.5,416.1 622.7,427.3" fill="none" stroke="#3a3a3a" stroke-width="1.1199999999999999" stroke-linejoin="round" stroke-linecap="round" />
<polygon points="678.4,457.5 703.5,463.8 703.5,468.7 678.4,462.4" fill="#cfcfcf" stroke="#555" stroke-width="0.9799999999999999" stroke-linejoin="round" />
<polygon points="603.2,436.4 614.4,441.2 614.4,444.0 603.2,439.1" fill="#c4c4c4" stroke="#555" stroke-width="0.84" stroke-linejoin="round" />
<polygon points="541.8,350.5 550.1,355.0 566.9,363.3 586.4,369.8 611.6,383.7 632.5,396.3 659.0,408.8 673.0,414.4 673.0,416.4 659.0,410.8 632.5,398.5 611.6,386.0 586.4,372.3 566.9,365.6 550.1,357.2 541.8,352.6" fill="#b4b4b4" stroke="#555" stroke-width="0.7" stroke-linejoin="round" />
<polygon points="716.1,435.6 725.8,438.1 742.6,446.5 759.4,454.3 770.5,461.3 781.7,462.1 809.6,458.5 822.9,456.5 822.9,458.2 809.6,460.4 781.7,464.0 769.8,463.5 759.4,456.8 742.6,449.0 725.8,440.3 716.1,437.5" fill="#b4b4b4" stroke="#555" stroke-width="0.7" stroke-linejoin="round" />
<polygon points="575.3,361.7 585.0,358.2 592.0,354.7 596.2,355.4 595.5,357.9 588.5,363.5 580.8,365.8" fill="#c8c8c8" stroke="#232323" stroke-width="1.26" stroke-linejoin="round" />
<polygon points="702.4,427.2 707.7,425.2 716.1,418.3 721.0,415.5 724.5,416.6 722.5,421.6 717.2,428.6 711.9,431.9" fill="#c8c8c8" stroke="#232323" stroke-width="1.26" stroke-linejoin="round" />
<polyline points="569.7,379.8 594.8,392.4 621.3,406.3 647.9,417.5 673.0,427.3" fill="none" stroke="#3a3a3a" stroke-width="1.26" stroke-linejoin="round" stroke-linecap="round" />
<polyline points="569.7,393.1 594.8,405.6 621.3,419.6 647.9,430.8 673.0,440.5" fill="none" stroke="#3a3a3a" stroke-width="1.26" stroke-linejoin="round" stroke-linecap="round" />
<polyline points="569.7,406.3 594.8,418.9 621.3,432.9 647.9,444.0 673.0,453.8" fill="none" stroke="#3a3a3a" stroke-width="1.26" stroke-linejoin="round" stroke-linecap="round" />
<polyline points="569.7,417.5 594.8,430.1 621.3,444.0 647.9,455.2 673.0,465.0" fill="none" stroke="#3a3a3a" stroke-width="1.26" stroke-linejoin="round" stroke-linecap="round" />
<polyline points="670.0,449.8 686.8,455.4 706.3,460.3 745.4,469.4" fill="none" stroke="#3a3a3a" stroke-width="1.26" stroke-linejoin="round" stroke-linecap="round" />
<polyline points="670.0,459.6 686.8,465.2 706.3,470.1 745.4,479.1" fill="none" stroke="#3a3a3a" stroke-width="1.26" stroke-linejoin="round" stroke-linecap="round" />
<polyline points="670.0,469.4 686.8,474.9 706.3,479.8 745.4,488.9" fill="none" stroke="#3a3a3a" stroke-width="1.26" stroke-linejoin="round" stroke-linecap="round" />
<polygon points="568.6,377.0 571.4,378.1 573.2,423.1 570.4,422.3" fill="#787878" stroke="#232323" stroke-width="1.1199999999999999" stroke-linejoin="round" />
<polygon points="593.4,392.4 596.2,393.5 597.9,436.4 595.1,435.5" fill="#787878" stroke="#232323" stroke-width="1.1199999999999999" stroke-linejoin="round" />
<polygon points="619.2,430.1 622.0,431.2 623.0,457.3 620.2,456.5" fill="#787878" stroke="#232323" stroke-width="1.1199999999999999" stroke-linejoin="round" />
<polygon points="645.8,439.8 648.6,441.0 649.5,463.6 646.7,462.7" fill="#787878" stroke="#232323" stroke-width="1.1199999999999999" stroke-linejoin="round" />
<polygon points="675.7,433.1 678.2,433.9 677.5,480.5 675.0,480.0" fill="#787878" stroke="#232323" stroke-width="1.1199999999999999" stroke-linejoin="round" />
<polygon points="705.7,441.4 708.3,442.3 709.7,484.7 707.1,484.2" fill="#787878" stroke="#232323" stroke-width="1.1199999999999999" stroke-linejoin="round" />
<polygon points="746.9,458.2 749.4,459.0 750.1,487.5 747.6,486.9" fill="#787878" stroke="#232323" stroke-width="1.1199999999999999" stroke-linejoin="round" />
<polyline points="535.5,326.8 536.2,351.9 539.0,377.0 545.9,388.2" fill="none" stroke="#3a3a3a" stroke-width="1.26" stroke-linejoin="round" stroke-linecap="round" />
<polyline points="543.2,351.9 545.9,368.6 552.9,382.6 561.3,393.8 566.9,407.7" fill="none" stroke="#3a3a3a" stroke-width="1.26" stroke-linejoin="round" stroke-linecap="round" />
<polyline points="550.1,356.1 557.1,371.4 566.9,377.0" fill="none" stroke="#3a3a3a" stroke-width="1.1199999999999999" stroke-linejoin="round" stroke-linecap="round" />
<polygon points="545.9,368.6 552.9,365.8 559.9,375.6 554.3,382.6" fill="#7a7a7a" stroke="#333" stroke-width="1.1199999999999999" stroke-linejoin="round" />
<polyline points="767.7,463.8 770.5,488.9" fill="none" stroke="#333" stroke-width="1.26" stroke-linejoin="round" stroke-linecap="round" />
<polyline points="770.5,469.4 795.7,466.6 823.6,463.8" fill="none" stroke="#333" stroke-width="1.26" stroke-linejoin="round" stroke-linecap="round" />
<polyline points="799.8,460.3 799.1,473.5" fill="none" stroke="#333" stroke-width="1.1199999999999999" stroke-linejoin="round" stroke-linecap="round" />
<polyline points="770.5,477.7 790.1,476.3 804.0,470.8" fill="none" stroke="#333" stroke-width="1.1199999999999999" stroke-linejoin="round" stroke-linecap="round" />
<polyline points="731.4,458.2 745.4,469.4 748.2,487.5" fill="none" stroke="#333" stroke-width="1.26" stroke-linejoin="round" stroke-linecap="round" />
<polygon points="709.1,487.5 731.4,491.0 727.9,498.4 722.8,502.6 715.0,502.0 710.5,498.1" fill="#6c6c6c" stroke="#232323" stroke-width="1.1199999999999999" stroke-linejoin="round" />
<polyline points="711.9,488.2 713.3,501.5" fill="none" stroke="#2f2f2f" stroke-width="0.9799999999999999" stroke-linejoin="round" stroke-linecap="round" />
<polyline points="715.8,488.8 716.6,501.5" fill="none" stroke="#2f2f2f" stroke-width="0.9799999999999999" stroke-linejoin="round" stroke-linecap="round" />
<polyline points="719.7,489.3 720.0,501.5" fill="none" stroke="#2f2f2f" stroke-width="0.9799999999999999" stroke-linejoin="round" stroke-linecap="round" />
<polyline points="723.6,489.9 723.3,501.5" fill="none" stroke="#2f2f2f" stroke-width="0.9799999999999999" stroke-linejoin="round" stroke-linecap="round" />
<polyline points="727.5,490.4 726.7,501.5" fill="none" stroke="#2f2f2f" stroke-width="0.9799999999999999" stroke-linejoin="round" stroke-linecap="round" />
<ellipse cx="715.4" cy="439.3" rx="2.4" ry="2.4" fill="#999" stroke="#333" stroke-width="1.1199999999999999" />
<ellipse cx="735.6" cy="452.6" rx="2.0" ry="2.0" fill="#999" stroke="#333" stroke-width="1.1199999999999999" />
<ellipse cx="755.9" cy="466.6" rx="2.0" ry="2.0" fill="#999" stroke="#333" stroke-width="1.1199999999999999" />
<path d="M524.0 447.4 L530.8 441.8 L532.6 446.3 L529.6 451.9 L539.8 455.3 L560.0 466.5 L589.3 483.4 L596.0 487.9 L618.5 496.9 L645.5 510.4 L670.3 521.6 L699.5 532.9 L724.3 545.3 L742.3 554.3 L751.3 557.6 L764.8 554.3 L771.5 561.0 L770.4 567.8 L760.3 572.3 L749.0 575.6 L731.0 573.4 L706.3 565.5 L677.0 553.1 L647.8 538.5 L618.5 522.8 L589.3 505.9 L560.0 487.9 L537.5 473.3 L526.3 464.3 L522.9 456.4 Z M539.3 462.0 L560.0 473.7 L589.3 490.6 L591.1 498.0 L560.0 480.7 L538.4 467.6 Z M597.6 494.2 L618.5 504.3 L645.5 517.1 L668.0 527.9 L668.9 535.4 L645.5 524.3 L618.5 511.1 L597.8 501.2 Z M674.1 530.6 L699.5 541.4 L726.5 553.1 L727.2 558.3 L699.5 547.1 L674.3 537.6 Z M732.1 555.8 L749.0 562.4 L740.0 566.0 L732.1 562.6 Z " fill="#858585" fill-rule="evenodd" stroke="#232323" stroke-width="1.8199999999999998" stroke-linejoin="round"/>
<polygon points="526.3,460.2 537.5,468.1 560.0,481.8 591.5,499.4 618.5,512.4 647.8,526.4 677.0,539.4 706.3,551.1 731.0,562.4 749.0,566.6 767.0,561.0 769.3,566.0 749.0,572.7 731.0,569.6 706.3,560.6 677.0,548.6 647.8,535.4 618.5,520.5 589.3,504.8 560.0,488.6 537.5,474.4 525.4,464.7" fill="#c9c9c9" stroke="#444" stroke-width="0.9799999999999999" stroke-linejoin="round" />
<polyline points="542.0,459.8 551.0,468.8 569.0,473.3 582.5,483.4 591.5,487.9" fill="none" stroke="#333" stroke-width="1.4" stroke-linejoin="round" stroke-linecap="round" />
<polyline points="600.5,492.4 611.8,502.5 620.8,501.4 632.0,509.3 650.0,513.8 663.5,523.9" fill="none" stroke="#333" stroke-width="1.4" stroke-linejoin="round" stroke-linecap="round" />
<polyline points="677.0,529.5 692.8,535.1 701.8,541.9 717.5,546.4 728.8,553.1" fill="none" stroke="#333" stroke-width="1.4" stroke-linejoin="round" stroke-linecap="round" />
<polygon points="590.8,489.0 594.4,490.4 594.4,503.0 591.3,501.4" fill="#7a7a7a" stroke="#232323" stroke-width="1.1199999999999999" stroke-linejoin="round" />
<polygon points="668.5,525.0 672.1,526.4 672.1,539.0 668.9,537.4" fill="#7a7a7a" stroke="#232323" stroke-width="1.1199999999999999" stroke-linejoin="round" />
<polygon points="727.0,554.3 730.6,555.6 730.6,568.2 727.4,566.6" fill="#7a7a7a" stroke="#232323" stroke-width="1.1199999999999999" stroke-linejoin="round" />
<polyline points="528.5,465.4 560.0,488.6 589.3,506.6 618.5,523.2 647.8,539.0 677.0,553.6 706.3,566.0 731.0,573.6" fill="none" stroke="#2f2f2f" stroke-width="1.68" stroke-linejoin="round" stroke-linecap="round" stroke-dasharray="5 3"/>
<defs><linearGradient id="g5" gradientUnits="userSpaceOnUse" x1="400" y1="0" x2="790" y2="0"><stop offset="0" stop-color="#868686"/><stop offset="0.18" stop-color="#9a9a9a"/><stop offset="0.36" stop-color="#c4c4c4"/><stop offset="0.54" stop-color="#e2e2e2"/><stop offset="0.67" stop-color="#cacaca"/><stop offset="0.77" stop-color="#adadad"/><stop offset="0.885" stop-color="#8a8a8a"/><stop offset="1" stop-color="#767676"/></linearGradient></defs>
<path d="M435.5 425.5 L438.6 426.9 L436.2 433.2 L432.7 442.9 L429.9 456.9 L428.5 473.6 L428.5 487.6 L429.9 497.4 L439.7 503.0 L448.1 507.1 L462.0 515.5 L481.6 525.3 L501.1 535.1 L513.7 541.4 L529.0 549.0 L555.0 561.6 L580.0 570.1 L603.8 582.0 L622.2 592.1 L653.3 605.8 L682.7 604.0 L704.7 603.1 L715.7 614.1 L723.0 615.0 L745.0 605.8 L763.3 597.6 L778.0 589.3 L786.3 593.0 L778.0 615.0 L771.8 642.5 L770.3 666.3 L771.8 679.2 L763.3 684.7 L745.0 692.0 L732.2 699.3 L708.3 704.8 L682.7 708.5 L660.7 710.3 L658.8 707.6 L640.5 696.6 L616.7 686.5 L600.0 678.0 L570.0 668.0 L540.0 656.0 L512.0 642.0 L480.0 626.0 L450.0 610.0 L420.0 596.0 L409.0 529.5 L405.5 515.5 L402.7 501.6 L402.0 487.6 L404.1 473.6 L409.0 462.5 L415.9 448.5 L422.9 435.9 Z M423.0 515.0 L433.0 517.6 L451.0 524.0 L470.4 533.7 L492.7 544.8 L513.7 555.3 L534.6 565.8 L560.0 578.0 L580.0 587.0 L600.0 598.0 L620.0 608.0 L630.0 616.0 L628.0 632.0 L620.0 644.0 L608.0 658.0 L596.0 664.0 L580.0 660.0 L552.0 650.0 L528.0 640.0 L512.0 628.0 L480.0 610.0 L458.0 598.0 L450.0 588.0 L438.3 575.0 L432.7 554.6 L429.9 540.7 L428.5 526.7 L421.5 521.0 Z M715.7 651.7 L724.8 653.5 L732.2 662.7 L739.5 684.7 L730.3 690.2 L719.3 684.7 L706.5 673.7 L701.0 669.1 L708.3 659.0 Z " fill="url(#g5)" fill-rule="evenodd" stroke="#232323" stroke-width="1.9599999999999997" stroke-linejoin="round"/>
<clipPath id="clip5"><path d="M435.5 425.5 L438.6 426.9 L436.2 433.2 L432.7 442.9 L429.9 456.9 L428.5 473.6 L428.5 487.6 L429.9 497.4 L439.7 503.0 L448.1 507.1 L462.0 515.5 L481.6 525.3 L501.1 535.1 L513.7 541.4 L529.0 549.0 L555.0 561.6 L580.0 570.1 L603.8 582.0 L622.2 592.1 L653.3 605.8 L682.7 604.0 L704.7 603.1 L715.7 614.1 L723.0 615.0 L745.0 605.8 L763.3 597.6 L778.0 589.3 L786.3 593.0 L778.0 615.0 L771.8 642.5 L770.3 666.3 L771.8 679.2 L763.3 684.7 L745.0 692.0 L732.2 699.3 L708.3 704.8 L682.7 708.5 L660.7 710.3 L658.8 707.6 L640.5 696.6 L616.7 686.5 L600.0 678.0 L570.0 668.0 L540.0 656.0 L512.0 642.0 L480.0 626.0 L450.0 610.0 L420.0 596.0 L409.0 529.5 L405.5 515.5 L402.7 501.6 L402.0 487.6 L404.1 473.6 L409.0 462.5 L415.9 448.5 L422.9 435.9 Z M423.0 515.0 L433.0 517.6 L451.0 524.0 L470.4 533.7 L492.7 544.8 L513.7 555.3 L534.6 565.8 L560.0 578.0 L580.0 587.0 L600.0 598.0 L620.0 608.0 L630.0 616.0 L628.0 632.0 L620.0 644.0 L608.0 658.0 L596.0 664.0 L580.0 660.0 L552.0 650.0 L528.0 640.0 L512.0 628.0 L480.0 610.0 L458.0 598.0 L450.0 588.0 L438.3 575.0 L432.7 554.6 L429.9 540.7 L428.5 526.7 L421.5 521.0 Z " clip-rule="evenodd"/></clipPath>
<g clip-path="url(#clip5)">
<polygon points="632.5,615.8 680.0,621.7 674.2,632.0 631.7,634.2" fill="#ffffff" stroke="none" stroke-width="0.0" stroke-linejoin="round" fill-opacity="0.28"/>
<polygon points="631.7,634.2 674.2,635.0 706.7,630.3 726.7,623.7 766.7,605.0 765.0,635.0 760.0,663.3 740.0,683.3 724.2,652.8 716.7,653.3 706.7,650.0 680.0,653.3 616.7,656.7 621.7,646.7" fill="#000000" stroke="none" stroke-width="0.0" stroke-linejoin="round" fill-opacity="0.04"/>
<polygon points="616.7,656.7 680.0,653.3 706.7,650.0 716.7,653.3 708.3,660.0 706.7,672.5 700.0,675.3 650.0,680.0 600.0,676.7 590.0,673.3" fill="#000000" stroke="none" stroke-width="0.0" stroke-linejoin="round" fill-opacity="0.2"/>
<polygon points="580.0,670.0 600.0,676.7 650.0,680.0 700.0,675.3 706.7,672.5 716.7,678.3 726.7,682.0 738.3,688.3 760.0,686.7 760.0,696.7 716.7,711.7 666.7,713.3 600.0,686.7" fill="#ffffff" stroke="none" stroke-width="0.0" stroke-linejoin="round" fill-opacity="0.12"/>
<polyline points="631.7,634.2 674.2,635.0" fill="none" stroke="#666" stroke-width="1.1199999999999999" stroke-linejoin="round" stroke-linecap="round" />
<polyline points="706.7,630.3 726.7,623.7 766.7,605.0" fill="none" stroke="#666" stroke-width="1.1199999999999999" stroke-linejoin="round" stroke-linecap="round" />
<polyline points="616.7,656.7 680.0,653.3 706.7,650.0 716.7,653.3" fill="none" stroke="#6a6a6a" stroke-width="1.1199999999999999" stroke-linejoin="round" stroke-linecap="round" />
<polyline points="600.0,676.7 650.0,680.0 700.0,675.3 706.7,672.5" fill="none" stroke="#6a6a6a" stroke-width="1.1199999999999999" stroke-linejoin="round" stroke-linecap="round" />
<polyline points="632.5,615.8 680.0,621.7" fill="none" stroke="#888" stroke-width="0.84" stroke-linejoin="round" stroke-linecap="round" />
<polygon points="766.7,596.7 776.7,590.0 785.0,593.3 779.2,621.7 774.2,646.7 772.5,678.3 760.8,688.3 760.0,663.3 764.2,630.0" fill="#7c7c7c" stroke="#333" stroke-width="1.26" stroke-linejoin="round" />
<polyline points="773.3,596.7 770.0,630.0 766.7,680.0" fill="none" stroke="#333" stroke-width="1.1199999999999999" stroke-linejoin="round" stroke-linecap="round" />
<polyline points="779.2,598.3 775.0,630.0 770.0,673.3" fill="none" stroke="#c8c8c8" stroke-width="1.68" stroke-linejoin="round" stroke-linecap="round" />
<rect x="765.7" y="625.2" width="2.0" height="3.0" fill="#e8e8e8" stroke="none" stroke-width="0" />
<rect x="764.7" y="633.5" width="2.0" height="3.0" fill="#e8e8e8" stroke="none" stroke-width="0" />
<rect x="761.5" y="660.2" width="2.0" height="3.0" fill="#e8e8e8" stroke="none" stroke-width="0" />
<rect x="760.6" y="667.7" width="2.0" height="3.0" fill="#e8e8e8" stroke="none" stroke-width="0" />
<polygon points="658.3,708.3 686.7,706.7 716.7,702.5 738.3,696.7 760.0,688.3 760.0,695.0 738.3,701.7 716.7,709.2 686.7,713.3 660.0,713.3" fill="#6e6e6e" stroke="#333" stroke-width="0.9799999999999999" stroke-linejoin="round" />
<polygon points="408.0,532.0 420.0,560.0 430.0,578.0 446.0,600.0 420.0,596.0 414.0,570.0 410.0,548.0" fill="#7e7e7e" stroke="#444" stroke-width="0.9799999999999999" stroke-linejoin="round" />
</g>
<polygon points="700.0,670.8 708.3,660.0 716.7,653.3 724.2,652.8 731.7,663.3 740.0,683.3 738.3,688.7 726.7,686.7" fill="#c8c8c8" stroke="#232323" stroke-width="1.4" stroke-linejoin="round" />
<polygon points="716.7,653.3 724.2,652.8 731.7,663.3 737.5,681.7 731.7,680.0 726.7,682.0 716.7,678.3 706.7,672.5 708.3,660.0" fill="#ffffff" stroke="#232323" stroke-width="1.4" stroke-linejoin="round" />
<polygon points="673.3,633.3 677.5,626.7 686.7,620.0 698.3,617.5 704.2,621.7 706.7,630.0 700.0,633.3 686.7,634.2 676.7,637.5" fill="#8e8e8e" stroke="#232323" stroke-width="1.54" stroke-linejoin="round" />
<polygon points="678.3,630.0 687.5,622.5 697.5,620.0 701.7,623.3 703.3,629.2 698.3,630.8 686.7,631.7" fill="#a8a8a8" stroke="#444" stroke-width="0.9799999999999999" stroke-linejoin="round" />
<polygon points="688.3,622.5 695.8,621.7 696.7,625.8 690.0,627.5" fill="#ffffff" stroke="#555" stroke-width="0.84" stroke-linejoin="round" />
<ellipse cx="752.5" cy="646.9" rx="2.6" ry="3.0" fill="#fff" stroke="#444" stroke-width="1.4" />
<ellipse cx="681.7" cy="660.8" rx="2.2" ry="2.4" fill="#fff" stroke="#444" stroke-width="1.26" />
<path d="M435.5 425.5 L438.6 426.9 L436.2 433.2 L432.7 442.9 L429.9 456.9 L428.5 473.6 L428.5 487.6 L429.9 497.4 L439.7 503.0 L448.1 507.1 L462.0 515.5 L481.6 525.3 L501.1 535.1 L513.7 541.4 L529.0 549.0 L555.0 561.6 L580.0 570.1 L603.8 582.0 L622.2 592.1 L653.3 605.8 L682.7 604.0 L704.7 603.1 L715.7 614.1 L723.0 615.0 L745.0 605.8 L763.3 597.6 L778.0 589.3 L786.3 593.0 L778.0 615.0 L771.8 642.5 L770.3 666.3 L771.8 679.2 L763.3 684.7 L745.0 692.0 L732.2 699.3 L708.3 704.8 L682.7 708.5 L660.7 710.3 L658.8 707.6 L640.5 696.6 L616.7 686.5 L600.0 678.0 L570.0 668.0 L540.0 656.0 L512.0 642.0 L480.0 626.0 L450.0 610.0 L420.0 596.0 L409.0 529.5 L405.5 515.5 L402.7 501.6 L402.0 487.6 L404.1 473.6 L409.0 462.5 L415.9 448.5 L422.9 435.9 Z M423.0 515.0 L433.0 517.6 L451.0 524.0 L470.4 533.7 L492.7 544.8 L513.7 555.3 L534.6 565.8 L560.0 578.0 L580.0 587.0 L600.0 598.0 L620.0 608.0 L630.0 616.0 L628.0 632.0 L620.0 644.0 L608.0 658.0 L596.0 664.0 L580.0 660.0 L552.0 650.0 L528.0 640.0 L512.0 628.0 L480.0 610.0 L458.0 598.0 L450.0 588.0 L438.3 575.0 L432.7 554.6 L429.9 540.7 L428.5 526.7 L421.5 521.0 Z " fill="none" stroke="#232323" stroke-width="1.4" stroke-linejoin="round"/>
<path d="M423.0 515.0 L433.0 517.6 L451.0 524.0 L470.4 533.7 L492.7 544.8 L513.7 555.3 L534.6 565.8 L560.0 578.0 L580.0 587.0 L600.0 598.0 L620.0 608.0 L630.0 616.0 L628.0 632.0 L620.0 644.0 L608.0 658.0 L596.0 664.0 L580.0 660.0 L552.0 650.0 L528.0 640.0 L512.0 628.0 L480.0 610.0 L458.0 598.0 L450.0 588.0 L438.3 575.0 L432.7 554.6 L429.9 540.7 L428.5 526.7 L421.5 521.0 Z " fill="none" stroke="#5a5a5a" stroke-width="8.4" stroke-linejoin="round"/>
<path d="M423.0 515.0 L433.0 517.6 L451.0 524.0 L470.4 533.7 L492.7 544.8 L513.7 555.3 L534.6 565.8 L560.0 578.0 L580.0 587.0 L600.0 598.0 L620.0 608.0 L630.0 616.0 L628.0 632.0 L620.0 644.0 L608.0 658.0 L596.0 664.0 L580.0 660.0 L552.0 650.0 L528.0 640.0 L512.0 628.0 L480.0 610.0 L458.0 598.0 L450.0 588.0 L438.3 575.0 L432.7 554.6 L429.9 540.7 L428.5 526.7 L421.5 521.0 Z " fill="none" stroke="#ffffff" stroke-opacity="0.35" stroke-width="7" stroke-linejoin="round"/>
<path d="M423.0 515.0 L433.0 517.6 L451.0 524.0 L470.4 533.7 L492.7 544.8 L513.7 555.3 L534.6 565.8 L560.0 578.0 L580.0 587.0 L600.0 598.0 L620.0 608.0 L630.0 616.0 L628.0 632.0 L620.0 644.0 L608.0 658.0 L596.0 664.0 L580.0 660.0 L552.0 650.0 L528.0 640.0 L512.0 628.0 L480.0 610.0 L458.0 598.0 L450.0 588.0 L438.3 575.0 L432.7 554.6 L429.9 540.7 L428.5 526.7 L421.5 521.0 Z " fill="#ffffff" stroke="#232323" stroke-width="1.1" stroke-linejoin="round"/>
<polyline points="430.6,498.8 441.1,505.1 462.0,517.6 481.6,527.4 501.1,537.2 529.0,551.1 555.0,563.7" fill="none" stroke="#dcdcdc" stroke-width="2.2399999999999998" stroke-linejoin="round" stroke-linecap="round" />
<polygon points="404.8,482.0 411.8,480.6 412.5,498.8 408.3,501.6 405.5,493.2" fill="#8c8c8c" stroke="#444" stroke-width="1.1199999999999999" stroke-linejoin="round" />
<polyline points="414.5,468.1 415.9,493.2 422.9,512.7" fill="none" stroke="#555" stroke-width="1.26" stroke-linejoin="round" stroke-linecap="round" />
<polyline points="435.5,427.6 425.7,442.9 417.3,468.1" fill="none" stroke="#555" stroke-width="1.1199999999999999" stroke-linejoin="round" stroke-linecap="round" />
<polygon points="427.1,435.9 432.7,430.4 432.0,442.9 427.8,456.9 425.0,461.1" fill="#6f6f6f" stroke="#333" stroke-width="0.9799999999999999" stroke-linejoin="round" />
<polyline points="417.3,468.1 419.4,493.2 429.9,498.8" fill="none" stroke="#e2e2e2" stroke-width="1.9599999999999997" stroke-linejoin="round" stroke-linecap="round" />
<polygon points="421.5,521.1 428.5,526.7 429.9,540.7 432.7,554.6 436.9,568.6 431.3,565.8 426.4,547.6 422.2,530.9" fill="#7a7a7a" stroke="#333" stroke-width="1.1199999999999999" stroke-linejoin="round" />
<defs><pattern id="slats" width="10" height="4.1" patternUnits="userSpaceOnUse" patternTransform="rotate(26)"><rect width="10" height="4.1" fill="#747474"/><rect y="0" width="10" height="1.7" fill="#3b3b3b"/></pattern><linearGradient id="gfr" gradientUnits="userSpaceOnUse" x1="300" y1="0" x2="500" y2="0"><stop offset="0" stop-color="#a8a8a8"/><stop offset="0.28" stop-color="#e0e0e0"/><stop offset="0.6" stop-color="#b8b8b8"/><stop offset="1" stop-color="#8c8c8c"/></linearGradient></defs>
<polygon points="293.4,675.5 308.7,676.5 327.9,683.2 356.7,696.6 387.3,712.9 418.0,730.2 448.7,745.5 475.5,760.8 494.7,774.2 499.5,781.9 498.5,791.5 490.8,804.9 477.4,820.2 464.0,833.7 458.2,836.5 446.7,833.7 421.8,824.1 395.0,811.6 368.2,798.2 343.2,783.8 324.1,769.5 308.7,755.1 300.1,737.8 295.3,718.7 289.6,693.7 289.2,680.3" fill="#8c8c8c" stroke="#232323" stroke-width="2.0999999999999996" stroke-linejoin="round" />
<polygon points="300.1,737.8 308.7,755.1 324.1,769.5 343.2,783.8 368.2,798.2 395.0,811.6 421.8,824.1 446.7,833.7 458.2,836.5 464.0,833.7 471.7,826.0 462.1,825.0 452.5,824.1 425.7,814.5 398.8,802.0 372.0,788.6 349.0,776.2 329.8,762.7 316.4,749.3 308.7,735.9" fill="url(#gfr)" stroke="none" stroke-width="0.0" stroke-linejoin="round" />
<polyline points="291.5,680.3 308.7,679.9 327.9,686.5 356.7,699.9 387.3,716.4 418.0,733.0 448.7,748.9 474.5,763.7 491.8,776.2 495.6,782.9" fill="none" stroke="#cfcfcf" stroke-width="1.4" stroke-linejoin="round" stroke-linecap="round" />
<polygon points="296.3,682.2 308.7,683.2 327.9,689.9 356.7,703.3 387.3,719.6 418.0,735.9 448.7,752.2 473.6,766.6 488.9,778.1 491.8,783.8 490.8,791.5 483.2,803.0 471.7,816.4 462.1,825.0 452.5,824.1 425.7,814.5 398.8,802.0 372.0,788.6 349.0,776.2 329.8,762.7 316.4,749.3 308.7,735.9 304.0,718.7 298.2,697.6" fill="url(#slats)" stroke="#333" stroke-width="1.4" stroke-linejoin="round" />
<polyline points="296.3,682.2 308.7,683.2 327.9,689.9 356.7,703.3 387.3,719.6 418.0,735.9 448.7,752.2 473.6,766.6 488.9,778.1" fill="none" stroke="#3c3c3c" stroke-width="2.2399999999999998" stroke-linejoin="round" stroke-linecap="round" />
<polyline points="317.4,687.6 313.5,722.5 318.3,755.1" fill="none" stroke="#333333" stroke-width="3.6399999999999997" stroke-linejoin="round" stroke-linecap="round" />
<polyline points="317.4,687.6 313.5,722.5 318.3,755.1" fill="none" stroke="#8e8e8e" stroke-width="1.26" stroke-linejoin="round" stroke-linecap="round" />
<polyline points="342.3,696.6 336.5,741.7 341.3,771.4" fill="none" stroke="#333333" stroke-width="3.6399999999999997" stroke-linejoin="round" stroke-linecap="round" />
<polyline points="342.3,696.6 336.5,741.7 341.3,771.4" fill="none" stroke="#8e8e8e" stroke-width="1.26" stroke-linejoin="round" stroke-linecap="round" />
<polyline points="363.4,745.5 362.4,764.7 364.3,781.9" fill="none" stroke="#333333" stroke-width="3.6399999999999997" stroke-linejoin="round" stroke-linecap="round" />
<polyline points="363.4,745.5 362.4,764.7 364.3,781.9" fill="none" stroke="#8e8e8e" stroke-width="1.26" stroke-linejoin="round" stroke-linecap="round" />
<polyline points="394.0,761.8 395.0,799.2" fill="none" stroke="#333333" stroke-width="3.6399999999999997" stroke-linejoin="round" stroke-linecap="round" />
<polyline points="394.0,761.8 395.0,799.2" fill="none" stroke="#8e8e8e" stroke-width="1.26" stroke-linejoin="round" stroke-linecap="round" />
<polyline points="428.5,741.7 420.9,783.8 422.8,812.6" fill="none" stroke="#333333" stroke-width="3.6399999999999997" stroke-linejoin="round" stroke-linecap="round" />
<polyline points="428.5,741.7 420.9,783.8 422.8,812.6" fill="none" stroke="#8e8e8e" stroke-width="1.26" stroke-linejoin="round" stroke-linecap="round" />
<polyline points="456.3,757.0 448.7,795.3 448.7,822.2" fill="none" stroke="#333333" stroke-width="3.6399999999999997" stroke-linejoin="round" stroke-linecap="round" />
<polyline points="456.3,757.0 448.7,795.3 448.7,822.2" fill="none" stroke="#8e8e8e" stroke-width="1.26" stroke-linejoin="round" stroke-linecap="round" />
<polygon points="433.3,755.1 439.1,749.3 452.5,757.0 451.5,768.5 448.7,774.2 439.1,772.3 433.3,769.5 430.5,760.8" fill="#ffffff" stroke="#333" stroke-width="1.26" stroke-linejoin="round" />
<polygon points="298.2,701.4 310.7,712.9 311.6,717.7 299.2,706.2" fill="#ffffff" stroke="#444" stroke-width="0.84" stroke-linejoin="round" />
<polygon points="454.5,785.0 488.0,793.8 486.0,799.0 455.5,790.3" fill="#ffffff" stroke="#444" stroke-width="0.84" stroke-linejoin="round" />
<ellipse cx="321.2" cy="737.8" rx="1.7" ry="1.9" fill="#ddd" stroke="#222" stroke-width="1.26" />
<ellipse cx="436.2" cy="800.1" rx="1.7" ry="1.9" fill="#ddd" stroke="#222" stroke-width="1.26" />
<g transform="rotate(-8 360.5 733.8)">
<ellipse cx="365.5" cy="730.7" rx="6.0" ry="10.8" fill="#d0d0d0" stroke="#2a2a2a" stroke-width="1.4" />
<ellipse cx="364.7" cy="731.2" rx="6.0" ry="10.8" fill="#dcdcdc" stroke="none" stroke-width="0.0" />
<ellipse cx="363.8" cy="731.7" rx="6.0" ry="10.8" fill="#dcdcdc" stroke="none" stroke-width="0.0" />
<ellipse cx="363.0" cy="732.2" rx="6.0" ry="10.8" fill="#dcdcdc" stroke="none" stroke-width="0.0" />
<ellipse cx="362.2" cy="732.8" rx="6.0" ry="10.8" fill="#dcdcdc" stroke="none" stroke-width="0.0" />
<ellipse cx="361.3" cy="733.3" rx="6.0" ry="10.8" fill="#dcdcdc" stroke="none" stroke-width="0.0" />
<ellipse cx="360.5" cy="733.8" rx="6.0" ry="10.8" fill="#ffffff" stroke="#2a2a2a" stroke-width="4.4799999999999995" />
<ellipse cx="360.5" cy="733.8" rx="6.0" ry="10.8" fill="none" stroke="#8c8c8c" stroke-width="2.0999999999999996" />
</g>
<g transform="rotate(-8 371.5 739.8)">
<ellipse cx="376.7" cy="736.6" rx="6.2" ry="11.0" fill="#d0d0d0" stroke="#2a2a2a" stroke-width="1.4" />
<ellipse cx="375.8" cy="737.1" rx="6.2" ry="11.0" fill="#dcdcdc" stroke="none" stroke-width="0.0" />
<ellipse cx="375.0" cy="737.7" rx="6.2" ry="11.0" fill="#dcdcdc" stroke="none" stroke-width="0.0" />
<ellipse cx="374.1" cy="738.2" rx="6.2" ry="11.0" fill="#dcdcdc" stroke="none" stroke-width="0.0" />
<ellipse cx="373.2" cy="738.7" rx="6.2" ry="11.0" fill="#dcdcdc" stroke="none" stroke-width="0.0" />
<ellipse cx="372.4" cy="739.3" rx="6.2" ry="11.0" fill="#dcdcdc" stroke="none" stroke-width="0.0" />
<ellipse cx="371.5" cy="739.8" rx="6.2" ry="11.0" fill="#ffffff" stroke="#2a2a2a" stroke-width="4.4799999999999995" />
<ellipse cx="371.5" cy="739.8" rx="6.2" ry="11.0" fill="none" stroke="#8c8c8c" stroke-width="2.0999999999999996" />
</g>
<g transform="rotate(-8 383.0 745.8)">
<ellipse cx="388.5" cy="742.4" rx="6.5" ry="11.3" fill="#d0d0d0" stroke="#2a2a2a" stroke-width="1.4" />
<ellipse cx="387.6" cy="743.0" rx="6.5" ry="11.3" fill="#dcdcdc" stroke="none" stroke-width="0.0" />
<ellipse cx="386.7" cy="743.5" rx="6.5" ry="11.3" fill="#dcdcdc" stroke="none" stroke-width="0.0" />
<ellipse cx="385.8" cy="744.1" rx="6.5" ry="11.3" fill="#dcdcdc" stroke="none" stroke-width="0.0" />
<ellipse cx="384.8" cy="744.7" rx="6.5" ry="11.3" fill="#dcdcdc" stroke="none" stroke-width="0.0" />
<ellipse cx="383.9" cy="745.2" rx="6.5" ry="11.3" fill="#dcdcdc" stroke="none" stroke-width="0.0" />
<ellipse cx="383.0" cy="745.8" rx="6.5" ry="11.3" fill="#ffffff" stroke="#2a2a2a" stroke-width="4.4799999999999995" />
<ellipse cx="383.0" cy="745.8" rx="6.5" ry="11.3" fill="none" stroke="#8c8c8c" stroke-width="2.0999999999999996" />
</g>
<g transform="rotate(-8 395.6 751.8)">
<ellipse cx="402.1" cy="747.8" rx="7.2" ry="12.2" fill="#d0d0d0" stroke="#2a2a2a" stroke-width="1.4" />
<ellipse cx="401.0" cy="748.4" rx="7.2" ry="12.2" fill="#dcdcdc" stroke="none" stroke-width="0.0" />
<ellipse cx="399.9" cy="749.1" rx="7.2" ry="12.2" fill="#dcdcdc" stroke="none" stroke-width="0.0" />
<ellipse cx="398.9" cy="749.8" rx="7.2" ry="12.2" fill="#dcdcdc" stroke="none" stroke-width="0.0" />
<ellipse cx="397.8" cy="750.5" rx="7.2" ry="12.2" fill="#dcdcdc" stroke="none" stroke-width="0.0" />
<ellipse cx="396.7" cy="751.1" rx="7.2" ry="12.2" fill="#dcdcdc" stroke="none" stroke-width="0.0" />
<ellipse cx="395.6" cy="751.8" rx="7.2" ry="12.2" fill="#ffffff" stroke="#2a2a2a" stroke-width="4.4799999999999995" />
<ellipse cx="395.6" cy="751.8" rx="7.2" ry="12.2" fill="none" stroke="#8c8c8c" stroke-width="2.0999999999999996" />
</g>
<text x="0" y="0" font-size="8" font-weight="bold" font-style="italic" fill="#3a3a3a" transform="translate(360,791.5) rotate(29) skewX(-20)" textLength="35" lengthAdjust="spacingAndGlyphs">e-tron</text>
<polygon points="389.3,654.7 398.7,650.7 406.7,654.7 405.3,660.0 416.0,668.0 414.7,673.3 433.3,690.7 454.7,705.3 456.0,701.9 459.5,703.5 460.0,710.7 492.0,732.0 524.0,746.7 525.3,743.5 528.8,745.1 529.3,750.7 566.7,765.3 578.7,767.5 580.0,764.8 583.2,765.9 583.2,769.6 606.7,776.0 636.0,781.3 646.7,780.0 669.3,778.7 666.7,784.0 689.3,786.7 686.7,789.3 670.7,794.7 646.7,794.7 620.0,790.7 588.0,784.0 550.7,772.0 513.3,754.7 476.0,734.7 441.3,709.3 412.0,684.0 396.0,669.3 390.7,661.3" fill="#c6c6c6" stroke="#232323" stroke-width="1.8199999999999998" stroke-linejoin="round" />
<polygon points="392.0,665.3 412.0,680.0 441.3,704.8 476.0,730.1 513.3,750.1 550.7,767.5 588.0,779.7 620.0,786.7 646.7,790.7 670.7,790.9 670.7,794.7 646.7,794.7 620.0,790.7 588.0,784.0 550.7,772.0 513.3,754.7 476.0,734.7 441.3,709.3 412.0,684.0 396.0,669.3" fill="#7e7e7e" stroke="#333" stroke-width="0.84" stroke-linejoin="round" />
<polyline points="396.0,658.7 417.3,673.3 441.3,697.3 476.0,723.2 513.3,744.0 550.7,760.5 588.0,773.3 620.0,780.8 646.7,784.5" fill="none" stroke="#e6e6e6" stroke-width="1.9599999999999997" stroke-linejoin="round" stroke-linecap="round" />
<polygon points="636.0,782.7 646.7,780.8 666.7,780.0 664.8,784.0 657.3,788.0 641.3,789.3" fill="#9a9a9a" stroke="#333" stroke-width="1.1199999999999999" stroke-linejoin="round" />
<polyline points="642.7,785.3 662.7,786.1 684.0,788.3" fill="none" stroke="#333" stroke-width="1.1199999999999999" stroke-linejoin="round" stroke-linecap="round" />
<polygon points="467.5,855.0 472.0,853.5 475.0,861.0 490.0,862.5 511.0,868.5 515.5,876.0 529.0,880.5 568.0,900.0 610.0,921.0 649.0,940.5 661.0,948.0 670.0,945.0 682.0,952.5 700.0,966.0 716.5,970.5 716.5,979.5 700.0,978.6 688.0,976.5 670.0,973.5 646.0,966.0 610.0,951.0 574.0,933.0 538.0,915.0 502.0,897.0 475.0,879.0 467.5,868.5" fill="#c6c6c6" stroke="#232323" stroke-width="1.8199999999999998" stroke-linejoin="round" />
<polygon points="469.0,865.5 502.0,882.0 538.0,901.5 574.0,919.5 610.0,937.5 646.0,955.5 682.0,967.5 712.0,973.5 716.5,979.5 700.0,978.6 688.0,976.5 670.0,973.5 646.0,966.0 610.0,951.0 574.0,933.0 538.0,915.0 502.0,897.0 475.0,879.0 467.5,868.5" fill="#7c7c7c" stroke="#333" stroke-width="1.1199999999999999" stroke-linejoin="round" />
<polygon points="474.4,869.4 482.2,873.3 481.9,881.1 474.7,877.2" fill="#c4c4c4" stroke="#262626" stroke-width="1.26" stroke-linejoin="round" />
<polygon points="475.3,873.0 481.3,876.3 481.3,880.2 475.3,876.6" fill="#adadad" stroke="none" stroke-width="0.0" stroke-linejoin="round" />
<polygon points="485.8,875.1 493.6,879.0 493.3,886.8 486.1,882.9" fill="#c4c4c4" stroke="#262626" stroke-width="1.26" stroke-linejoin="round" />
<polygon points="486.7,878.7 492.7,882.0 492.7,885.9 486.7,882.3" fill="#adadad" stroke="none" stroke-width="0.0" stroke-linejoin="round" />
<polygon points="497.2,880.8 505.0,884.8 504.7,892.6 497.5,888.6" fill="#c4c4c4" stroke="#262626" stroke-width="1.26" stroke-linejoin="round" />
<polygon points="498.1,884.4 504.1,887.8 504.1,891.7 498.1,888.0" fill="#adadad" stroke="none" stroke-width="0.0" stroke-linejoin="round" />
<polygon points="508.6,886.8 516.4,891.0 516.1,898.8 508.9,894.6" fill="#c4c4c4" stroke="#262626" stroke-width="1.26" stroke-linejoin="round" />
<polygon points="509.5,890.4 515.5,894.0 515.5,897.9 509.5,894.0" fill="#adadad" stroke="none" stroke-width="0.0" stroke-linejoin="round" />
<polygon points="520.0,893.0 527.8,897.2 527.5,905.0 520.3,900.8" fill="#c4c4c4" stroke="#262626" stroke-width="1.26" stroke-linejoin="round" />
<polygon points="520.9,896.6 526.9,900.2 526.9,904.1 520.9,900.2" fill="#adadad" stroke="none" stroke-width="0.0" stroke-linejoin="round" />
<polygon points="531.4,899.1 539.2,903.3 538.9,911.1 531.7,906.9" fill="#c4c4c4" stroke="#262626" stroke-width="1.26" stroke-linejoin="round" />
<polygon points="532.3,902.7 538.3,906.3 538.3,910.2 532.3,906.3" fill="#adadad" stroke="none" stroke-width="0.0" stroke-linejoin="round" />
<polygon points="542.8,905.1 550.6,909.0 550.3,916.8 543.1,912.9" fill="#c4c4c4" stroke="#262626" stroke-width="1.26" stroke-linejoin="round" />
<polygon points="543.7,908.7 549.7,912.0 549.7,915.9 543.7,912.3" fill="#adadad" stroke="none" stroke-width="0.0" stroke-linejoin="round" />
<polygon points="554.2,910.8 562.0,914.7 561.7,922.5 554.5,918.6" fill="#c4c4c4" stroke="#262626" stroke-width="1.26" stroke-linejoin="round" />
<polygon points="555.1,914.4 561.1,917.7 561.1,921.6 555.1,918.0" fill="#adadad" stroke="none" stroke-width="0.0" stroke-linejoin="round" />
<polygon points="565.6,916.5 573.4,920.4 573.1,928.2 565.9,924.3" fill="#c4c4c4" stroke="#262626" stroke-width="1.26" stroke-linejoin="round" />
<polygon points="566.5,920.1 572.5,923.4 572.5,927.3 566.5,923.7" fill="#adadad" stroke="none" stroke-width="0.0" stroke-linejoin="round" />
<polygon points="577.0,922.2 584.8,926.1 584.5,933.9 577.3,930.0" fill="#c4c4c4" stroke="#262626" stroke-width="1.26" stroke-linejoin="round" />
<polygon points="577.9,925.8 583.9,929.1 583.9,933.0 577.9,929.4" fill="#adadad" stroke="none" stroke-width="0.0" stroke-linejoin="round" />
<polygon points="588.4,927.9 596.2,931.8 595.9,939.6 588.7,935.7" fill="#c4c4c4" stroke="#262626" stroke-width="1.26" stroke-linejoin="round" />
<polygon points="589.3,931.5 595.3,934.8 595.3,938.7 589.3,935.1" fill="#adadad" stroke="none" stroke-width="0.0" stroke-linejoin="round" />
<polygon points="599.8,933.6 607.6,937.5 607.3,945.3 600.1,941.4" fill="#c4c4c4" stroke="#262626" stroke-width="1.26" stroke-linejoin="round" />
<polygon points="600.7,937.2 606.7,940.5 606.7,944.4 600.7,940.8" fill="#adadad" stroke="none" stroke-width="0.0" stroke-linejoin="round" />
<polygon points="611.2,939.3 619.0,943.2 618.7,951.0 611.5,947.1" fill="#c4c4c4" stroke="#262626" stroke-width="1.26" stroke-linejoin="round" />
<polygon points="612.1,942.9 618.1,946.2 618.1,950.1 612.1,946.5" fill="#adadad" stroke="none" stroke-width="0.0" stroke-linejoin="round" />
<polygon points="622.6,945.0 630.4,948.9 630.1,956.7 622.9,952.8" fill="#c4c4c4" stroke="#262626" stroke-width="1.26" stroke-linejoin="round" />
<polygon points="623.5,948.6 629.5,951.9 629.5,955.8 623.5,952.2" fill="#adadad" stroke="none" stroke-width="0.0" stroke-linejoin="round" />
<polygon points="634.0,950.7 641.8,954.6 641.5,962.4 634.3,958.5" fill="#c4c4c4" stroke="#262626" stroke-width="1.26" stroke-linejoin="round" />
<polygon points="634.9,954.3 640.9,957.6 640.9,961.5 634.9,957.9" fill="#adadad" stroke="none" stroke-width="0.0" stroke-linejoin="round" />
<polygon points="645.4,956.4 653.2,959.1 652.9,966.9 645.7,964.2" fill="#c4c4c4" stroke="#262626" stroke-width="1.26" stroke-linejoin="round" />
<polygon points="646.3,960.0 652.3,962.1 652.3,966.0 646.3,963.6" fill="#adadad" stroke="none" stroke-width="0.0" stroke-linejoin="round" />
<polygon points="656.8,960.3 664.6,962.9 664.3,970.7 657.1,968.1" fill="#c4c4c4" stroke="#262626" stroke-width="1.26" stroke-linejoin="round" />
<polygon points="657.7,963.9 663.7,965.9 663.7,969.8 657.7,967.5" fill="#adadad" stroke="none" stroke-width="0.0" stroke-linejoin="round" />
<polygon points="668.2,964.1 676.0,966.7 675.7,974.5 668.5,971.9" fill="#c4c4c4" stroke="#262626" stroke-width="1.26" stroke-linejoin="round" />
<polygon points="669.1,967.7 675.1,969.7 675.1,973.6 669.1,971.3" fill="#adadad" stroke="none" stroke-width="0.0" stroke-linejoin="round" />
<polygon points="679.6,967.9 687.4,969.8 687.1,977.6 679.9,975.7" fill="#c4c4c4" stroke="#262626" stroke-width="1.26" stroke-linejoin="round" />
<polygon points="680.5,971.5 686.5,972.8 686.5,976.7 680.5,975.1" fill="#adadad" stroke="none" stroke-width="0.0" stroke-linejoin="round" />
<polygon points="691.0,970.5 698.8,972.1 698.5,979.9 691.3,978.3" fill="#c4c4c4" stroke="#262626" stroke-width="1.26" stroke-linejoin="round" />
<polygon points="691.9,974.1 697.9,975.1 697.9,979.0 691.9,977.7" fill="#adadad" stroke="none" stroke-width="0.0" stroke-linejoin="round" />
<polygon points="702.4,972.8 710.2,974.3 709.9,982.1 702.7,980.6" fill="#c4c4c4" stroke="#262626" stroke-width="1.26" stroke-linejoin="round" />
<polygon points="703.3,976.4 709.3,977.3 709.3,981.2 703.3,980.0" fill="#adadad" stroke="none" stroke-width="0.0" stroke-linejoin="round" />
<polyline points="475.0,862.5 511.0,873.0 529.0,885.0 610.0,925.5 661.0,951.6 700.0,969.6" fill="none" stroke="#d8d8d8" stroke-width="1.68" stroke-linejoin="round" stroke-linecap="round" />
<polygon points="416.5,904.5 422.5,888.0 431.5,880.5 445.0,882.0 457.0,889.5 467.5,894.0 469.0,901.5 487.0,915.0 520.0,930.0 580.0,957.0 634.0,984.0 670.0,1003.5 700.0,1015.5 715.0,1020.0 733.0,1017.0 749.5,1029.0 742.0,1035.0 718.0,1044.0 697.0,1048.5 670.0,1047.0 640.0,1041.0 598.0,1029.0 550.0,1009.5 508.0,987.0 469.0,963.0 439.0,939.0 421.0,921.0" fill="#c5c5c5" stroke="#232323" stroke-width="1.9599999999999997" stroke-linejoin="round" />
<polygon points="418.0,912.0 439.0,934.5 469.0,958.5 508.0,982.5 550.0,1005.0 598.0,1024.5 640.0,1036.5 670.0,1042.5 697.0,1044.0 718.0,1040.4 742.0,1033.5 742.0,1035.0 718.0,1044.0 697.0,1048.5 670.0,1047.0 640.0,1041.0 598.0,1029.0 550.0,1009.5 508.0,987.0 469.0,963.0 439.0,939.0 421.0,921.0" fill="#a6a6a6" stroke="#333" stroke-width="0.9799999999999999" stroke-linejoin="round" />
<polygon points="425.5,892.5 433.0,885.0 445.0,885.0 457.0,892.5 464.5,897.0 457.0,904.5 445.0,912.0 433.0,909.0 427.0,901.5" fill="#d0d0d0" stroke="#444" stroke-width="1.1199999999999999" stroke-linejoin="round" />
<polyline points="430.0,900.0 439.0,907.5 449.5,906.0 458.5,898.5" fill="none" stroke="#444" stroke-width="1.1199999999999999" stroke-linejoin="round" stroke-linecap="round" stroke-dasharray="2 1.5"/>
<polygon points="700.0,1027.5 727.0,1020.9 745.0,1029.0 718.0,1039.5 701.5,1035.6" fill="#d4d4d4" stroke="#444" stroke-width="1.1199999999999999" stroke-linejoin="round" stroke-dasharray="2 1.5"/>
<polyline points="451.0,939.0 469.0,933.0 481.0,924.0 487.0,921.0" fill="none" stroke="#555" stroke-width="1.1199999999999999" stroke-linejoin="round" stroke-linecap="round" />
<polyline points="664.0,1032.0 688.0,1020.0 700.0,1017.0" fill="none" stroke="#555" stroke-width="1.1199999999999999" stroke-linejoin="round" stroke-linecap="round" />
<polyline points="427.0,903.0 436.0,921.0 454.0,939.0" fill="none" stroke="#555" stroke-width="0.9799999999999999" stroke-linejoin="round" stroke-linecap="round" />
<ellipse cx="521.5" cy="939.6" rx="12.0" ry="7.8" fill="#a2a2a2" stroke="#3a3a3a" stroke-width="1.0" transform="rotate(24 521.5 939.6)"/>
<ellipse cx="521.5" cy="937.2" rx="6.0" ry="3.9" fill="#c2c2c2" stroke="#555" stroke-width="0.7" transform="rotate(24 521.5 939.6)"/>
<ellipse cx="583.0" cy="969.6" rx="13.5" ry="8.4" fill="#a2a2a2" stroke="#3a3a3a" stroke-width="1.0" transform="rotate(24 583.0 969.6)"/>
<ellipse cx="583.0" cy="967.2" rx="6.8" ry="4.2" fill="#c2c2c2" stroke="#555" stroke-width="0.7" transform="rotate(24 583.0 969.6)"/>
<ellipse cx="643.0" cy="998.1" rx="13.5" ry="8.4" fill="#a2a2a2" stroke="#3a3a3a" stroke-width="1.0" transform="rotate(24 643.0 998.1)"/>
<ellipse cx="643.0" cy="995.7" rx="6.8" ry="4.2" fill="#c2c2c2" stroke="#555" stroke-width="0.7" transform="rotate(24 643.0 998.1)"/>
<ellipse cx="489.4" cy="921.6" rx="5" ry="3" fill="#b0b0b0" stroke="#444" stroke-width="0.7" transform="rotate(24 489.4 921.6)"/>
<ellipse cx="682.0" cy="1013.4" rx="5" ry="3" fill="#b0b0b0" stroke="#444" stroke-width="0.7" transform="rotate(24 682.0 1013.4)"/>
<polygon points="911.9,194.2 897.2,202.8 896.6,205.8 899.5,206.8 914.3,198.2" fill="#5e5e5e" stroke="#1f1f1f" stroke-width="1.26" stroke-linejoin="round" />
<line x1="908.1" y1="196.4" x2="909.8" y2="200.8" stroke="#222" stroke-width="0.6" />
<line x1="906.2" y1="197.5" x2="907.9" y2="201.9" stroke="#222" stroke-width="0.6" />
<line x1="904.3" y1="198.6" x2="906.0" y2="203.0" stroke="#222" stroke-width="0.6" />
<line x1="902.4" y1="199.7" x2="904.1" y2="204.1" stroke="#222" stroke-width="0.6" />
<line x1="900.5" y1="200.9" x2="902.2" y2="205.2" stroke="#222" stroke-width="0.6" />
<line x1="898.6" y1="202.0" x2="900.3" y2="206.3" stroke="#222" stroke-width="0.6" />
<g transform="translate(913.1 196.2) rotate(149.8)">
<path d="M1.5 -5.8 L1.5 5.8 L-0.5 5.8 Q-8.7 0 -0.5 -5.8 Z" fill="#c9c9c9" stroke="#1f1f1f" stroke-width="1.3"/>
</g>
<line x1="912.5" y1="170.0" x2="912.5" y2="188.5" stroke="#232323" stroke-width="1.3" />
<polygon points="965.2,285.8 950.5,293.5 949.8,296.5 952.6,297.6 967.4,289.8" fill="#5e5e5e" stroke="#1f1f1f" stroke-width="1.26" stroke-linejoin="round" />
<line x1="961.3" y1="287.8" x2="962.8" y2="292.3" stroke="#222" stroke-width="0.6" />
<line x1="959.4" y1="288.8" x2="960.8" y2="293.3" stroke="#222" stroke-width="0.6" />
<line x1="957.4" y1="289.9" x2="958.9" y2="294.3" stroke="#222" stroke-width="0.6" />
<line x1="955.5" y1="290.9" x2="956.9" y2="295.3" stroke="#222" stroke-width="0.6" />
<line x1="953.6" y1="291.9" x2="955.0" y2="296.4" stroke="#222" stroke-width="0.6" />
<line x1="951.6" y1="292.9" x2="953.0" y2="297.4" stroke="#222" stroke-width="0.6" />
<g transform="translate(966.3 287.8) rotate(152.2)">
<path d="M1.5 -5.8 L1.5 5.8 L-0.5 5.8 Q-8.7 0 -0.5 -5.8 Z" fill="#c9c9c9" stroke="#1f1f1f" stroke-width="1.3"/>
</g>
<polygon points="734.1,954.5 722.0,962.0 721.5,965.0 724.4,965.9 736.5,958.5" fill="#5e5e5e" stroke="#1f1f1f" stroke-width="1.26" stroke-linejoin="round" />
<line x1="730.3" y1="956.8" x2="732.1" y2="961.2" stroke="#222" stroke-width="0.6" />
<line x1="728.5" y1="958.0" x2="730.2" y2="962.3" stroke="#222" stroke-width="0.6" />
<line x1="726.6" y1="959.2" x2="728.3" y2="963.5" stroke="#222" stroke-width="0.6" />
<line x1="724.7" y1="960.3" x2="726.5" y2="964.6" stroke="#222" stroke-width="0.6" />
<line x1="722.9" y1="961.5" x2="724.6" y2="965.8" stroke="#222" stroke-width="0.6" />
<g transform="translate(735.3 956.5) rotate(148.4)">
<path d="M1.5 -5.8 L1.5 5.8 L-0.5 5.8 Q-8.7 0 -0.5 -5.8 Z" fill="#c9c9c9" stroke="#1f1f1f" stroke-width="1.3"/>
</g>
<polygon points="900.0,320.6 884.4,327.6 883.5,330.5 886.3,331.8 901.8,324.8" fill="#5e5e5e" stroke="#1f1f1f" stroke-width="1.26" stroke-linejoin="round" />
<line x1="895.9" y1="322.4" x2="897.1" y2="326.9" stroke="#222" stroke-width="0.6" />
<line x1="893.9" y1="323.3" x2="895.1" y2="327.8" stroke="#222" stroke-width="0.6" />
<line x1="891.9" y1="324.2" x2="893.1" y2="328.7" stroke="#222" stroke-width="0.6" />
<line x1="889.9" y1="325.1" x2="891.1" y2="329.6" stroke="#222" stroke-width="0.6" />
<line x1="887.9" y1="326.0" x2="889.1" y2="330.5" stroke="#222" stroke-width="0.6" />
<line x1="885.9" y1="326.9" x2="887.1" y2="331.4" stroke="#222" stroke-width="0.6" />
<g transform="translate(900.9 322.7) rotate(155.9)">
<ellipse cx="0.5" cy="0" rx="2.8" ry="7.0" fill="#8a8a8a" stroke="#1f1f1f" stroke-width="1.3"/>
<rect x="-6.5" y="-4.9" width="6.5" height="9.9" rx="1.6" fill="#7a7a7a" stroke="#1f1f1f" stroke-width="1.3"/>
<line x1="-6" y1="-1.5" x2="-0.5" y2="-1.5" stroke="#c0c0c0" stroke-width="1"/>
</g>
<line x1="884.0" y1="332.5" x2="867.5" y2="340.0" stroke="#444" stroke-width="1.0" />
<polygon points="596.5,336.9 580.8,344.6 580.0,347.5 582.8,348.7 598.5,341.1" fill="#5e5e5e" stroke="#1f1f1f" stroke-width="1.26" stroke-linejoin="round" />
<line x1="592.5" y1="338.9" x2="593.8" y2="343.3" stroke="#222" stroke-width="0.6" />
<line x1="590.6" y1="339.8" x2="591.8" y2="344.3" stroke="#222" stroke-width="0.6" />
<line x1="588.6" y1="340.8" x2="589.9" y2="345.3" stroke="#222" stroke-width="0.6" />
<line x1="586.6" y1="341.7" x2="587.9" y2="346.2" stroke="#222" stroke-width="0.6" />
<line x1="584.6" y1="342.7" x2="585.9" y2="347.2" stroke="#222" stroke-width="0.6" />
<line x1="582.6" y1="343.7" x2="583.9" y2="348.1" stroke="#222" stroke-width="0.6" />
<g transform="translate(597.5 339.0) rotate(154.1)">
<ellipse cx="0.5" cy="0" rx="2.8" ry="7.0" fill="#8a8a8a" stroke="#1f1f1f" stroke-width="1.3"/>
<rect x="-6.5" y="-4.9" width="6.5" height="9.9" rx="1.6" fill="#7a7a7a" stroke="#1f1f1f" stroke-width="1.3"/>
<line x1="-6" y1="-1.5" x2="-0.5" y2="-1.5" stroke="#c0c0c0" stroke-width="1"/>
</g>
<line x1="579.0" y1="350.0" x2="564.0" y2="357.5" stroke="#444" stroke-width="1.0" />
<polygon points="963.3,529.9 948.6,536.5 947.8,539.4 950.5,540.7 965.1,534.1" fill="#5e5e5e" stroke="#1f1f1f" stroke-width="1.26" stroke-linejoin="round" />
<line x1="959.2" y1="531.7" x2="960.4" y2="536.2" stroke="#222" stroke-width="0.6" />
<line x1="957.2" y1="532.6" x2="958.4" y2="537.1" stroke="#222" stroke-width="0.6" />
<line x1="955.2" y1="533.5" x2="956.4" y2="538.0" stroke="#222" stroke-width="0.6" />
<line x1="953.2" y1="534.4" x2="954.4" y2="538.9" stroke="#222" stroke-width="0.6" />
<line x1="951.2" y1="535.3" x2="952.4" y2="539.8" stroke="#222" stroke-width="0.6" />
<line x1="949.2" y1="536.2" x2="950.4" y2="540.7" stroke="#222" stroke-width="0.6" />
<g transform="translate(964.2 532.0) rotate(155.8)">
<ellipse cx="0.5" cy="0" rx="2.8" ry="7.0" fill="#8a8a8a" stroke="#1f1f1f" stroke-width="1.3"/>
<rect x="-6.5" y="-4.9" width="6.5" height="9.9" rx="1.6" fill="#7a7a7a" stroke="#1f1f1f" stroke-width="1.3"/>
<line x1="-6" y1="-1.5" x2="-0.5" y2="-1.5" stroke="#c0c0c0" stroke-width="1"/>
</g>
<line x1="945.9" y1="541.2" x2="930.3" y2="549.5" stroke="#555" stroke-width="1.0" stroke-dasharray="9 2 1.5 2"/>
<polygon points="813.4,607.4 800.3,602.0 797.6,603.4 798.6,606.3 811.6,611.6" fill="#5e5e5e" stroke="#1f1f1f" stroke-width="1.26" stroke-linejoin="round" />
<line x1="809.3" y1="605.7" x2="806.8" y2="609.7" stroke="#222" stroke-width="0.6" />
<line x1="807.3" y1="604.9" x2="804.8" y2="608.8" stroke="#222" stroke-width="0.6" />
<line x1="805.2" y1="604.0" x2="802.7" y2="608.0" stroke="#222" stroke-width="0.6" />
<line x1="803.2" y1="603.2" x2="800.7" y2="607.2" stroke="#222" stroke-width="0.6" />
<line x1="801.2" y1="602.4" x2="798.7" y2="606.3" stroke="#222" stroke-width="0.6" />
<g transform="translate(812.5 609.5) rotate(-157.7)">
<rect x="-5.5" y="-5.8" width="7.5" height="11.6" rx="2.6" fill="#9a9a9a" stroke="#1f1f1f" stroke-width="1.1"/>
<ellipse cx="-3.6" cy="0" rx="2.6" ry="4.6" fill="#b8b8b8" stroke="#333" stroke-width="0.7"/>
</g>
<polygon points="805.4,624.9 792.2,619.4 789.5,620.8 790.5,623.7 803.6,629.1" fill="#5e5e5e" stroke="#1f1f1f" stroke-width="1.26" stroke-linejoin="round" />
<line x1="801.3" y1="623.2" x2="798.8" y2="627.1" stroke="#222" stroke-width="0.6" />
<line x1="799.3" y1="622.4" x2="796.8" y2="626.3" stroke="#222" stroke-width="0.6" />
<line x1="797.2" y1="621.5" x2="794.7" y2="625.5" stroke="#222" stroke-width="0.6" />
<line x1="795.2" y1="620.7" x2="792.7" y2="624.6" stroke="#222" stroke-width="0.6" />
<line x1="793.2" y1="619.8" x2="790.7" y2="623.8" stroke="#222" stroke-width="0.6" />
<g transform="translate(804.5 627.0) rotate(-157.5)">
<rect x="-5.5" y="-5.8" width="7.5" height="11.6" rx="2.6" fill="#9a9a9a" stroke="#1f1f1f" stroke-width="1.1"/>
<ellipse cx="-3.6" cy="0" rx="2.6" ry="4.6" fill="#b8b8b8" stroke="#333" stroke-width="0.7"/>
</g>
<polygon points="813.2,824.6 798.8,818.8 796.1,820.2 797.1,823.1 811.4,828.8" fill="#5e5e5e" stroke="#1f1f1f" stroke-width="1.26" stroke-linejoin="round" />
<line x1="809.1" y1="822.9" x2="806.6" y2="826.9" stroke="#222" stroke-width="0.6" />
<line x1="807.0" y1="822.1" x2="804.6" y2="826.1" stroke="#222" stroke-width="0.6" />
<line x1="805.0" y1="821.3" x2="802.5" y2="825.3" stroke="#222" stroke-width="0.6" />
<line x1="802.9" y1="820.5" x2="800.5" y2="824.4" stroke="#222" stroke-width="0.6" />
<line x1="800.9" y1="819.7" x2="798.5" y2="823.6" stroke="#222" stroke-width="0.6" />
<g transform="translate(812.3 826.7) rotate(-158.1)">
<rect x="-5.5" y="-5.8" width="7.5" height="11.6" rx="2.6" fill="#9a9a9a" stroke="#1f1f1f" stroke-width="1.1"/>
<ellipse cx="-3.6" cy="0" rx="2.6" ry="4.6" fill="#b8b8b8" stroke="#333" stroke-width="0.7"/>
</g>
<polygon points="626.9,813.7 639.7,804.5 640.0,801.5 637.0,800.8 624.3,809.9" fill="#5e5e5e" stroke="#1f1f1f" stroke-width="1.26" stroke-linejoin="round" />
<line x1="630.5" y1="811.1" x2="628.5" y2="806.9" stroke="#222" stroke-width="0.6" />
<line x1="632.3" y1="809.8" x2="630.3" y2="805.6" stroke="#222" stroke-width="0.6" />
<line x1="634.1" y1="808.6" x2="632.1" y2="804.3" stroke="#222" stroke-width="0.6" />
<line x1="635.9" y1="807.3" x2="633.9" y2="803.1" stroke="#222" stroke-width="0.6" />
<line x1="637.7" y1="806.0" x2="635.6" y2="801.8" stroke="#222" stroke-width="0.6" />
<line x1="639.5" y1="804.7" x2="637.4" y2="800.5" stroke="#222" stroke-width="0.6" />
<g transform="translate(625.6 811.8) rotate(-35.6)">
<rect x="-5.5" y="-5.8" width="7.5" height="11.6" rx="2.6" fill="#9a9a9a" stroke="#1f1f1f" stroke-width="1.1"/>
<ellipse cx="-3.6" cy="0" rx="2.6" ry="4.6" fill="#b8b8b8" stroke="#333" stroke-width="0.7"/>
</g>
<line x1="640.0" y1="801.5" x2="655.0" y2="791.0" stroke="#666" stroke-width="0.9" />
<line x1="780.0" y1="593.0" x2="796.0" y2="602.0" stroke="#666" stroke-width="0.9" stroke-dasharray="9 2 1.5 2"/>
<line x1="772.0" y1="614.0" x2="789.0" y2="620.5" stroke="#666" stroke-width="0.9" stroke-dasharray="9 2 1.5 2"/>
<line x1="775.0" y1="812.0" x2="795.0" y2="820.0" stroke="#666" stroke-width="0.9" />
<rect x="325.5" y="184.0" width="8.3" height="17.0" fill="#7d7d7d" stroke="#1f1f1f" stroke-width="0.9" rx="1"/>
<line x1="325.5" y1="186.0" x2="333.8" y2="186.6" stroke="#2a2a2a" stroke-width="0.6" />
<line x1="325.5" y1="188.1" x2="333.8" y2="188.7" stroke="#2a2a2a" stroke-width="0.6" />
<line x1="325.5" y1="190.2" x2="333.8" y2="190.8" stroke="#2a2a2a" stroke-width="0.6" />
<line x1="325.5" y1="192.3" x2="333.8" y2="192.9" stroke="#2a2a2a" stroke-width="0.6" />
<line x1="325.5" y1="194.4" x2="333.8" y2="195.0" stroke="#2a2a2a" stroke-width="0.6" />
<line x1="325.5" y1="196.5" x2="333.8" y2="197.1" stroke="#2a2a2a" stroke-width="0.6" />
<line x1="325.5" y1="198.6" x2="333.8" y2="199.2" stroke="#2a2a2a" stroke-width="0.6" />
<path d="M321.5 178 L323.5 174.5 L335 174.5 L337 178 L337 183 L335 185.5 L323.5 185.5 L321.5 183 Z" fill="#a9a9a9" stroke="#1f1f1f" stroke-width="1.4" stroke-linejoin="round" stroke-linecap="round" />
<path d="M324 175 Q329 172.5 334.5 175 L334.5 178.5 L324 178.5Z" fill="#d0d0d0" stroke="#333" stroke-width="0.84" stroke-linejoin="round" stroke-linecap="round" />
<line x1="321.5" y1="181.0" x2="337.0" y2="181.0" stroke="#333" stroke-width="0.7" />
<rect x="345.8" y="182.0" width="8.0" height="16.3" fill="#7d7d7d" stroke="#1f1f1f" stroke-width="0.9" rx="1"/>
<line x1="345.8" y1="184.0" x2="353.8" y2="184.6" stroke="#2a2a2a" stroke-width="0.6" />
<line x1="345.8" y1="186.1" x2="353.8" y2="186.7" stroke="#2a2a2a" stroke-width="0.6" />
<line x1="345.8" y1="188.2" x2="353.8" y2="188.8" stroke="#2a2a2a" stroke-width="0.6" />
<line x1="345.8" y1="190.3" x2="353.8" y2="190.9" stroke="#2a2a2a" stroke-width="0.6" />
<line x1="345.8" y1="192.4" x2="353.8" y2="193.0" stroke="#2a2a2a" stroke-width="0.6" />
<line x1="345.8" y1="194.5" x2="353.8" y2="195.1" stroke="#2a2a2a" stroke-width="0.6" />
<line x1="345.8" y1="196.6" x2="353.8" y2="197.2" stroke="#2a2a2a" stroke-width="0.6" />
<ellipse cx="349.7" cy="178.3" rx="7.7" ry="5.0" fill="#a0a0a0" stroke="#1f1f1f" stroke-width="1.4" />
<ellipse cx="349.7" cy="176.4" rx="4.6" ry="2.6" fill="#cfcfcf" stroke="#333" stroke-width="0.84" />
<ellipse cx="349.7" cy="175.2" rx="1.3" ry="0.9" fill="#333" stroke="none" stroke-width="0.0" />
<rect x="364.7" y="182.0" width="7.1" height="27.0" fill="#7d7d7d" stroke="#1f1f1f" stroke-width="0.9" rx="1"/>
<line x1="364.7" y1="184.0" x2="371.8" y2="184.6" stroke="#2a2a2a" stroke-width="0.6" />
<line x1="364.7" y1="186.1" x2="371.8" y2="186.7" stroke="#2a2a2a" stroke-width="0.6" />
<line x1="364.7" y1="188.2" x2="371.8" y2="188.8" stroke="#2a2a2a" stroke-width="0.6" />
<line x1="364.7" y1="190.3" x2="371.8" y2="190.9" stroke="#2a2a2a" stroke-width="0.6" />
<line x1="364.7" y1="192.4" x2="371.8" y2="193.0" stroke="#2a2a2a" stroke-width="0.6" />
<line x1="364.7" y1="194.5" x2="371.8" y2="195.1" stroke="#2a2a2a" stroke-width="0.6" />
<line x1="364.7" y1="196.6" x2="371.8" y2="197.2" stroke="#2a2a2a" stroke-width="0.6" />
<line x1="364.7" y1="198.7" x2="371.8" y2="199.3" stroke="#2a2a2a" stroke-width="0.6" />
<line x1="364.7" y1="200.8" x2="371.8" y2="201.4" stroke="#2a2a2a" stroke-width="0.6" />
<line x1="364.7" y1="202.9" x2="371.8" y2="203.5" stroke="#2a2a2a" stroke-width="0.6" />
<line x1="364.7" y1="205.0" x2="371.8" y2="205.6" stroke="#2a2a2a" stroke-width="0.6" />
<line x1="364.7" y1="207.1" x2="371.8" y2="207.7" stroke="#2a2a2a" stroke-width="0.6" />
<ellipse cx="368.0" cy="179.0" rx="7.3" ry="5.0" fill="#a0a0a0" stroke="#1f1f1f" stroke-width="1.4" />
<ellipse cx="368.0" cy="177.2" rx="4.4" ry="2.6" fill="#cfcfcf" stroke="#333" stroke-width="0.84" />
<ellipse cx="368.0" cy="176.0" rx="1.3" ry="0.9" fill="#333" stroke="none" stroke-width="0.0" />
<rect x="382.8" y="182.0" width="7.0" height="16.3" fill="#7d7d7d" stroke="#1f1f1f" stroke-width="0.9" rx="1"/>
<line x1="382.8" y1="184.0" x2="389.8" y2="184.6" stroke="#2a2a2a" stroke-width="0.6" />
<line x1="382.8" y1="186.1" x2="389.8" y2="186.7" stroke="#2a2a2a" stroke-width="0.6" />
<line x1="382.8" y1="188.2" x2="389.8" y2="188.8" stroke="#2a2a2a" stroke-width="0.6" />
<line x1="382.8" y1="190.3" x2="389.8" y2="190.9" stroke="#2a2a2a" stroke-width="0.6" />
<line x1="382.8" y1="192.4" x2="389.8" y2="193.0" stroke="#2a2a2a" stroke-width="0.6" />
<line x1="382.8" y1="194.5" x2="389.8" y2="195.1" stroke="#2a2a2a" stroke-width="0.6" />
<line x1="382.8" y1="196.6" x2="389.8" y2="197.2" stroke="#2a2a2a" stroke-width="0.6" />
<ellipse cx="386.0" cy="179.0" rx="8.0" ry="5.0" fill="#a0a0a0" stroke="#1f1f1f" stroke-width="1.4" />
<ellipse cx="386.0" cy="177.2" rx="4.8" ry="2.6" fill="#cfcfcf" stroke="#333" stroke-width="0.84" />
<ellipse cx="386.0" cy="176.0" rx="1.3" ry="0.9" fill="#333" stroke="none" stroke-width="0.0" />
<line x1="403.3" y1="172.5" x2="403.3" y2="189.0" stroke="#1f1f1f" stroke-width="1.5" />
<rect x="401.3" y="192.0" width="4.4" height="13.5" fill="#c0c0c0" stroke="#1f1f1f" stroke-width="0.9" rx="1.5"/>
<ellipse cx="403.3" cy="191.0" rx="5.6" ry="2.8" fill="#d0d0d0" stroke="#1f1f1f" stroke-width="1.4" />
<ellipse cx="403.3" cy="190.6" rx="2.2" ry="1.0" fill="#666" stroke="none" stroke-width="0.0" />
<polygon points="412.7,183.7 416.7,180.3 420.5,182.0 423.3,185.0 427.3,190.3 429.3,196.3 426.0,196.0 423.3,197.7 420.0,194.0 416.7,193.0" fill="#5c5c5c" stroke="#1f1f1f" stroke-width="1.26" stroke-linejoin="round" />
<polyline points="415.0,183.5 421.0,188.5 426.0,195.0" fill="none" stroke="#bdbdbd" stroke-width="1.1199999999999999" stroke-linejoin="round" stroke-linecap="round" />
<polyline points="416.5,187.0 422.0,192.0 424.0,197.0" fill="none" stroke="#222" stroke-width="0.9799999999999999" stroke-linejoin="round" stroke-linecap="round" />
<path d="M436.3 189 L443.7 189 L443.7 197.5 Q443.5 201.2 440 201.5 Q436.5 201.2 436.3 197.5Z" fill="#9c9c9c" stroke="#1f1f1f" stroke-width="1.26" stroke-linejoin="round" stroke-linecap="round" />
<line x1="438.3" y1="192.0" x2="438.3" y2="200.0" stroke="#d8d8d8" stroke-width="0.9" />
<line x1="441.8" y1="192.0" x2="441.8" y2="200.0" stroke="#444" stroke-width="0.7" />
<ellipse cx="440.0" cy="185.0" rx="6.7" ry="4.8" fill="#8a8a8a" stroke="#1f1f1f" stroke-width="1.4" />
<ellipse cx="439.5" cy="183.2" rx="3.6" ry="1.8" fill="#d2d2d2" stroke="none" stroke-width="0.0" />
<path d="M435 188 L440 192.5 L445 188" fill="#555" stroke="#1f1f1f" stroke-width="0.9799999999999999" stroke-linejoin="round" stroke-linecap="round" />
<path d="M452.8 182.5 L455.8 182.5 L456.2 187.5 L459.8 190 L459.5 192.5 L456.5 193.5 L457.6 198 L456 200.3 L452.6 200.3 L451.3 198 L452.3 193.5 L449.2 192.5 L449 190 L452.4 187.5 Z" fill="#b2b2b2" stroke="#1f1f1f" stroke-width="1.3299999999999998" stroke-linejoin="round" stroke-linecap="round" />
<line x1="454.3" y1="184.0" x2="454.3" y2="199.0" stroke="#444" stroke-width="0.7" />
<rect x="692.8" y="232.8" width="12.0" height="19.0" fill="#8a8a8a" stroke="#1f1f1f" stroke-width="1.0" rx="1.5"/>
<rect x="694.0" y="233.8" width="5.0" height="17.0" fill="#bdbdbd" stroke="none" stroke-width="0" />
<line x1="692.8" y1="244.0" x2="704.8" y2="244.0" stroke="#222" stroke-width="0.8" />
<line x1="692.8" y1="248.0" x2="704.8" y2="248.0" stroke="#222" stroke-width="0.8" />
<rect x="696.5" y="251.8" width="5.0" height="8.0" fill="#5f5f5f" stroke="#1f1f1f" stroke-width="0.8" />
<rect x="697.3" y="259.5" width="3.4" height="4.5" fill="#cfcfcf" stroke="#1f1f1f" stroke-width="0.8" />
<rect x="715.6" y="356.0" width="6.2" height="14.3" fill="#6e6e6e" stroke="#1f1f1f" stroke-width="0.9" rx="1"/>
<line x1="715.6" y1="358.0" x2="721.8" y2="358.6" stroke="#2a2a2a" stroke-width="0.6" />
<line x1="715.6" y1="360.1" x2="721.8" y2="360.7" stroke="#2a2a2a" stroke-width="0.6" />
<line x1="715.6" y1="362.2" x2="721.8" y2="362.8" stroke="#2a2a2a" stroke-width="0.6" />
<line x1="715.6" y1="364.3" x2="721.8" y2="364.9" stroke="#2a2a2a" stroke-width="0.6" />
<line x1="715.6" y1="366.4" x2="721.8" y2="367.0" stroke="#2a2a2a" stroke-width="0.6" />
<line x1="715.6" y1="368.5" x2="721.8" y2="369.1" stroke="#2a2a2a" stroke-width="0.6" />
<ellipse cx="718.7" cy="352.6" rx="6.7" ry="3.9" fill="#8c8c8c" stroke="#1f1f1f" stroke-width="1.54" />
<ellipse cx="718.7" cy="351.4" rx="3.6" ry="1.7" fill="#3c3c3c" stroke="none" stroke-width="0.0" />
<line x1="718.7" y1="371.5" x2="718.7" y2="417.0" stroke="#8a8a8a" stroke-width="0.9" stroke-dasharray="9 2 1.5 2"/>
<polygon points="685.8,375.0 690.0,374.2 697.5,379.2 702.5,386.7 704.2,395.0 700.8,401.7 691.7,400.8 685.0,396.7 684.2,392.5 689.2,385.0 687.5,379.2" fill="#8b8b8b" stroke="#1f1f1f" stroke-width="1.54" stroke-linejoin="round" />
<ellipse cx="695.3" cy="390.8" rx="3.7" ry="4.7" fill="#e4e4e4" stroke="#1f1f1f" stroke-width="1.26" />
<path d="M692.2 392.5 Q693 387 697.5 387.2" fill="none" stroke="#7a7a7a" stroke-width="1.68" stroke-linejoin="round" stroke-linecap="round" />
<polygon points="728.3,392.5 733.3,386.7 747.5,388.3 748.3,399.2 743.3,400.8 742.5,405.8 736.7,405.8 735.8,400.0 730.0,400.8 730.0,395.8" fill="#686868" stroke="#1f1f1f" stroke-width="1.54" stroke-linejoin="round" />
<polyline points="729.2,393.3 736.7,392.5 747.5,394.2" fill="none" stroke="#b0b0b0" stroke-width="1.26" stroke-linejoin="round" stroke-linecap="round" />
<polyline points="736.7,392.5 736.3,400.0" fill="none" stroke="#222" stroke-width="1.1199999999999999" stroke-linejoin="round" stroke-linecap="round" />
<polygon points="733.3,387.0 747.2,388.7 747.3,391.7 735.8,390.8 729.7,393.0" fill="#8a8a8a" stroke="#222" stroke-width="0.9799999999999999" stroke-linejoin="round" />
<polygon points="767.5,389.2 770.0,388.3 773.3,393.3 781.7,392.5 796.7,400.8 800.8,405.0 800.8,425.0 795.0,427.5 786.7,424.2 773.3,416.7 770.0,410.0 772.5,398.3 768.3,392.5" fill="#5e5e5e" stroke="#1f1f1f" stroke-width="1.68" stroke-linejoin="round" />
<polygon points="781.7,393.0 796.3,401.2 800.3,405.3 795.0,406.7 780.0,398.3 774.2,394.2" fill="#444" stroke="#1f1f1f" stroke-width="0.9799999999999999" stroke-linejoin="round" />
<polygon points="795.0,406.7 800.3,405.3 800.5,424.7 795.0,427.0" fill="#7a7a7a" stroke="#1f1f1f" stroke-width="1.1199999999999999" stroke-linejoin="round" />
<ellipse cx="781.5" cy="411.5" rx="8.6" ry="7.6" fill="#9c9c9c" stroke="#1f1f1f" stroke-width="1" transform="rotate(25 781.5 411.5)"/>
<ellipse cx="782.5" cy="412.3" rx="6.4" ry="5.6" fill="#8a8a8a" stroke="#444" stroke-width="0.6" transform="rotate(25 782.5 412.3)"/>
<polygon points="740.0,415.8 745.8,410.8 756.7,415.0 766.7,420.0 770.8,423.3 770.0,431.7 767.5,435.0 767.5,442.5 763.3,443.3 760.8,435.0 761.7,425.0 756.7,420.8 748.3,417.5 744.2,420.0" fill="#707070" stroke="#1f1f1f" stroke-width="1.54" stroke-linejoin="round" />
<polyline points="743.3,415.0 756.7,418.0 765.0,423.3 765.0,441.7" fill="none" stroke="#b5b5b5" stroke-width="1.26" stroke-linejoin="round" stroke-linecap="round" />
<polygon points="690.9,507.7 695.8,506.4 701.4,508.4 703.5,511.2 702.8,516.1 700.0,518.2 697.9,521.0 695.1,520.3 693.0,518.2 690.9,514.0" fill="#686868" stroke="#1f1f1f" stroke-width="1.54" stroke-linejoin="round" />
<polyline points="691.6,511.2 697.9,512.6 702.8,511.9" fill="none" stroke="#b0b0b0" stroke-width="1.26" stroke-linejoin="round" stroke-linecap="round" />
<polyline points="692.3,514.7 697.9,516.1 701.4,515.4" fill="none" stroke="#222" stroke-width="1.1199999999999999" stroke-linejoin="round" stroke-linecap="round" />
<polygon points="848.9,438.8 852.6,437.6 865.1,453.8 866.4,458.9 880.2,452.6 890.2,445.1 895.2,443.8 897.7,448.8 892.7,453.8 892.7,458.9 899.0,460.1 897.7,465.1 890.2,467.6 880.2,468.9 873.9,472.6 863.9,473.9 861.4,462.6 855.1,452.6" fill="#6a6a6a" stroke="#1f1f1f" stroke-width="1.68" stroke-linejoin="round" />
<polyline points="851.4,440.1 863.9,457.6 865.1,472.6" fill="none" stroke="#b0b0b0" stroke-width="1.26" stroke-linejoin="round" stroke-linecap="round" />
<rect x="868.5" y="459.0" width="3.4" height="2.2" fill="#e8e8e8" stroke="#222" stroke-width="0.5" />
<rect x="879.7" y="457.8" width="3.4" height="2.2" fill="#e8e8e8" stroke="#222" stroke-width="0.5" />
<rect x="868.5" y="465.3" width="3.4" height="2.2" fill="#e8e8e8" stroke="#222" stroke-width="0.5" />
<rect x="878.5" y="464.5" width="3.4" height="2.2" fill="#e8e8e8" stroke="#222" stroke-width="0.5" />
<polygon points="811.2,513.8 813.9,511.0 822.2,512.8 823.1,517.4 817.6,518.3 816.7,527.5 819.4,545.8 821.3,556.8 817.6,558.7 815.8,555.9 813.0,542.2 811.2,523.8" fill="#e6e6e6" stroke="#1f1f1f" stroke-width="1.68" stroke-linejoin="round" />
<line x1="823.0" y1="518.3" x2="860.7" y2="549.5" stroke="#666" stroke-width="0.9" stroke-dasharray="9 2 1.5 2"/>
<polygon points="819.4,575.2 824.9,562.3 830.4,553.2 838.7,550.4 845.1,551.3 846.9,554.1 860.7,552.3 861.6,549.5 864.3,549.5 868.0,551.3 877.2,538.5 882.7,529.3 890.0,523.8 893.7,522.0 895.5,524.8 891.8,531.2 890.0,544.0 890.0,560.5 890.9,572.4 886.3,577.0 879.0,579.8 871.7,582.5 866.2,585.3 860.7,586.2 858.8,591.7 853.3,594.4 844.2,592.6 833.2,587.1 824.0,581.6" fill="#656565" stroke="#1f1f1f" stroke-width="1.8199999999999998" stroke-linejoin="round" />
<polygon points="821.3,575.2 825.8,563.3 831.3,554.6 838.7,552.3 844.2,553.2 840.5,562.3 836.8,573.3 835.0,578.8 825.8,580.7" fill="#8a8a8a" stroke="#222" stroke-width="1.1199999999999999" stroke-linejoin="round" />
<polygon points="835.0,578.8 851.5,577.0 859.2,586.2 857.9,591.7 853.3,593.9 844.5,592.0 833.5,586.7 824.9,581.0" fill="#b2b2b2" stroke="#222" stroke-width="1.1199999999999999" stroke-linejoin="round" />
<polyline points="840.5,573.3 862.5,569.7 882.7,563.3 890.0,560.5" fill="none" stroke="#2a2a2a" stroke-width="1.26" stroke-linejoin="round" stroke-linecap="round" />
<polyline points="836.8,577.0 866.2,573.3 882.7,567.8" fill="none" stroke="#999" stroke-width="1.26" stroke-linejoin="round" stroke-linecap="round" />
<polyline points="824.0,566.0 835.0,571.5 836.8,563.3 828.6,558.7" fill="none" stroke="#2a2a2a" stroke-width="1.1199999999999999" stroke-linejoin="round" stroke-linecap="round" />
<line x1="854.2" y1="593.8" x2="854.2" y2="611.2" stroke="#232323" stroke-width="1.3" />
<polygon points="875.3,587.1 879.9,586.2 885.4,591.7 897.3,588.0 904.7,580.7 901.9,575.2 906.5,567.8 901.9,562.3 904.7,553.2 912.0,549.5 919.3,550.4 924.8,547.7 929.4,551.3 926.7,560.5 924.8,573.3 923.0,591.7 924.8,610.0 922.1,619.2 924.8,628.3 921.2,635.7 913.8,639.3 906.5,644.8 897.3,642.1 901.0,635.7 906.5,632.0 904.7,619.2 897.3,617.3 893.7,628.3 889.1,626.5 890.0,617.3 884.5,602.7" fill="#5f5f5f" stroke="#1f1f1f" stroke-width="1.8199999999999998" stroke-linejoin="round" />
<polyline points="879.9,588.0 888.2,595.3 899.2,590.8 908.3,580.7" fill="none" stroke="#c8c8c8" stroke-width="1.4" stroke-linejoin="round" stroke-linecap="round" />
<polyline points="906.5,555.0 915.7,553.2 923.0,555.0" fill="none" stroke="#c0c0c0" stroke-width="1.26" stroke-linejoin="round" stroke-linecap="round" />
<polyline points="916.6,567.8 917.5,577.0" fill="none" stroke="#d0d0d0" stroke-width="1.9599999999999997" stroke-linejoin="round" stroke-linecap="round" />
<polyline points="906.5,619.2 919.3,617.3 921.2,628.3" fill="none" stroke="#222" stroke-width="1.26" stroke-linejoin="round" stroke-linecap="round" />
<polyline points="906.5,632.0 915.7,628.3 919.3,634.8" fill="none" stroke="#bbb" stroke-width="1.26" stroke-linejoin="round" stroke-linecap="round" />
<polygon points="897.3,642.1 901.0,636.6 908.3,639.3 906.5,644.8" fill="#9a9a9a" stroke="#1f1f1f" stroke-width="1.26" stroke-linejoin="round" />
<polygon points="661.0,589.0 670.0,577.0 671.0,571.5 674.0,572.0 677.0,577.0 683.0,583.5 672.0,595.5 668.0,595.0" fill="#6b6b6b" stroke="#1f1f1f" stroke-width="1.54" stroke-linejoin="round" />
<polyline points="670.5,577.0 677.0,577.5" fill="none" stroke="#222" stroke-width="1.1199999999999999" stroke-linejoin="round" stroke-linecap="round" />
<ellipse cx="671.5" cy="585.5" rx="2.0" ry="2.0" fill="#c8c8c8" stroke="#333" stroke-width="1.1199999999999999" />
<polygon points="716.0,585.0 718.0,582.5 720.0,584.5 732.5,583.0 733.5,598.5 721.5,602.5 719.0,596.0 716.0,594.0" fill="#6b6b6b" stroke="#1f1f1f" stroke-width="1.54" stroke-linejoin="round" />
<polyline points="720.0,584.5 720.5,596.0" fill="none" stroke="#222" stroke-width="1.1199999999999999" stroke-linejoin="round" stroke-linecap="round" />
<ellipse cx="726.5" cy="592.5" rx="2.0" ry="2.0" fill="#c8c8c8" stroke="#333" stroke-width="1.1199999999999999" />
<polygon points="687.3,741.5 691.8,736.0 699.2,735.1 702.8,741.5 701.9,750.7 693.7,752.5 688.2,748.8" fill="#6b6b6b" stroke="#1f1f1f" stroke-width="1.54" stroke-linejoin="round" />
<ellipse cx="692.2" cy="744.3" rx="1.6" ry="1.6" fill="#ddd" stroke="#222" stroke-width="0.9799999999999999" />
<polyline points="692.2,736.4 697.3,741.5 701.0,750.7" fill="none" stroke="#a5a5a5" stroke-width="1.26" stroke-linejoin="round" stroke-linecap="round" />
<polygon points="594.7,719.5 603.8,708.5 620.3,703.9 626.8,712.2 629.5,719.5 622.2,724.1 598.3,726.8 594.7,723.2" fill="#787878" stroke="#1f1f1f" stroke-width="1.68" stroke-linejoin="round" stroke-linejoin="round"/>
<polygon points="628.6,747.0 639.6,725.0 647.8,721.7 660.7,727.8 669.8,758.0 668.0,763.5 660.7,766.3 633.2,754.3" fill="#8f8f8f" stroke="#1f1f1f" stroke-width="1.68" stroke-linejoin="round" />
<polygon points="631.7,746.1 641.8,726.5 657.0,729.6 653.3,743.3 640.5,750.7" fill="#6c6c6c" stroke="#222" stroke-width="1.1199999999999999" stroke-linejoin="round" />
<polygon points="635.0,751.0 653.3,744.1 663.4,759.8 658.8,762.0" fill="#dadada" stroke="#333" stroke-width="0.9799999999999999" stroke-linejoin="round" />
<polyline points="657.0,729.6 663.4,759.8" fill="none" stroke="#444" stroke-width="0.9799999999999999" stroke-linejoin="round" stroke-linecap="round" />
<polygon points="382.3,567.3 386.3,570.0 388.0,572.7 387.0,574.7 391.7,584.7 395.0,586.7 395.3,590.0 393.0,592.7 393.7,596.7 406.3,603.3 410.3,607.3 407.7,609.0 404.3,608.7 403.7,606.0 395.0,600.7 391.3,602.7 387.0,595.3 383.0,583.3 381.3,573.3" fill="#6f6f6f" stroke="#1f1f1f" stroke-width="1.54" stroke-linejoin="round" />
<polyline points="384.3,571.0 385.5,583.0 390.5,597.0" fill="none" stroke="#a8a8a8" stroke-width="1.1199999999999999" stroke-linejoin="round" stroke-linecap="round" />
<line x1="394.5" y1="582.6" x2="416.0" y2="578.0" stroke="#9a9a9a" stroke-width="1.4" />
<line x1="416.0" y1="578.0" x2="432.0" y2="574.8" stroke="#c9c9c9" stroke-width="1.2" />
<polygon points="673.7,770.8 678.0,768.2 708.3,767.5 734.3,763.8 749.5,760.4 748.6,762.5 738.7,766.4 708.3,770.5 674.7,772.9" fill="#8a8a8a" stroke="#1f1f1f" stroke-width="1.4" stroke-linejoin="round" />
<defs><linearGradient id="g50" gradientUnits="userSpaceOnUse" x1="672" y1="0" x2="788" y2="0"><stop offset="0" stop-color="#cccccc"/><stop offset="0.5" stop-color="#b4b4b4"/><stop offset="1" stop-color="#787878"/></linearGradient></defs>
<polygon points="671.1,836.4 679.1,834.2 680.6,832.7 684.9,832.7 686.2,834.0 708.3,832.1 711.6,829.3 718.1,828.8 718.7,831.0 734.3,827.7 737.6,825.6 743.0,824.9 744.1,826.2 758.2,818.0 759.2,815.4 766.8,813.7 767.9,814.7 773.3,811.5 773.3,808.2 785.2,810.4 786.3,822.3 782.0,828.8 764.7,837.5 738.7,844.0 708.3,846.6 686.7,845.1 674.7,841.8" fill="url(#g50)" stroke="#1f1f1f" stroke-width="1.68" stroke-linejoin="round" />
<polygon points="673.7,840.1 686.7,841.8 708.3,843.1 738.7,840.1 764.7,833.6 782.0,825.6 785.9,820.2 786.3,822.3 782.0,828.8 764.7,837.5 738.7,844.0 708.3,846.6 686.7,845.1 674.7,841.8" fill="#000000" stroke="#333" stroke-width="0.84" stroke-linejoin="round" fill-opacity="0.22"/>
<polyline points="674.7,837.5 708.3,835.3 738.7,829.9 760.3,822.3 773.3,814.7" fill="none" stroke="#e8e8e8" stroke-width="1.8199999999999998" stroke-linejoin="round" stroke-linecap="round" />
<path d="M757.5 870.5 L757.5 857.0 L760.3 853.5 L763.1 857.0 Z M763.1 857.0 L763.1 870.5" fill="#8a8a8a" stroke="#1f1f1f" stroke-width="1.26" stroke-linejoin="round" stroke-linecap="round" />
<line x1="757.2" y1="857.5" x2="763.4" y2="858.4" stroke="#1f1f1f" stroke-width="0.8" />
<line x1="757.2" y1="859.8" x2="763.4" y2="860.7" stroke="#1f1f1f" stroke-width="0.8" />
<line x1="757.2" y1="862.1" x2="763.4" y2="863.0" stroke="#1f1f1f" stroke-width="0.8" />
<line x1="757.2" y1="864.4" x2="763.4" y2="865.3" stroke="#1f1f1f" stroke-width="0.8" />
<line x1="757.2" y1="866.7" x2="763.4" y2="867.6" stroke="#1f1f1f" stroke-width="0.8" />
<path d="M752.7 872.0 Q752.7 867.5 757.7 866.7 Q760.3 866.1 762.9 866.7 Q767.9 867.5 767.9 872.0 Q760.3 878.0 752.7 872.0 Z" fill="#bcbcbc" stroke="#1f1f1f" stroke-width="1.54" stroke-linejoin="round" stroke-linecap="round" />
<path d="M753.7 871.7 Q760.3 875.5 766.9 871.7" fill="none" stroke="#666" stroke-width="0.9799999999999999" stroke-linejoin="round" stroke-linecap="round" />
<path d="M579.5 1061.0 L579.5 1046.8 L582.3 1043.3 L585.1 1046.8 Z M585.1 1046.8 L585.1 1061.0" fill="#8a8a8a" stroke="#1f1f1f" stroke-width="1.26" stroke-linejoin="round" stroke-linecap="round" />
<line x1="579.2" y1="1047.3" x2="585.4" y2="1048.2" stroke="#1f1f1f" stroke-width="0.8" />
<line x1="579.2" y1="1049.6" x2="585.4" y2="1050.5" stroke="#1f1f1f" stroke-width="0.8" />
<line x1="579.2" y1="1051.9" x2="585.4" y2="1052.8" stroke="#1f1f1f" stroke-width="0.8" />
<line x1="579.2" y1="1054.2" x2="585.4" y2="1055.1" stroke="#1f1f1f" stroke-width="0.8" />
<line x1="579.2" y1="1056.5" x2="585.4" y2="1057.4" stroke="#1f1f1f" stroke-width="0.8" />
<line x1="579.2" y1="1058.8" x2="585.4" y2="1059.7" stroke="#1f1f1f" stroke-width="0.8" />
<path d="M574.7 1062.5 Q574.7 1058.0 579.7 1057.2 Q582.3 1056.6 584.9 1057.2 Q589.9 1058.0 589.9 1062.5 Q582.3 1068.5 574.7 1062.5 Z" fill="#bcbcbc" stroke="#1f1f1f" stroke-width="1.54" stroke-linejoin="round" stroke-linecap="round" />
<path d="M575.7 1062.2 Q582.3 1066.0 588.9 1062.2" fill="none" stroke="#666" stroke-width="0.9799999999999999" stroke-linejoin="round" stroke-linecap="round" />
<path d="M667.2 1082.5 L667.2 1068.5 L670.0 1065.0 L672.8 1068.5 Z M672.8 1068.5 L672.8 1082.5" fill="#8a8a8a" stroke="#1f1f1f" stroke-width="1.26" stroke-linejoin="round" stroke-linecap="round" />
<line x1="666.9" y1="1069.0" x2="673.1" y2="1069.9" stroke="#1f1f1f" stroke-width="0.8" />
<line x1="666.9" y1="1071.3" x2="673.1" y2="1072.2" stroke="#1f1f1f" stroke-width="0.8" />
<line x1="666.9" y1="1073.6" x2="673.1" y2="1074.5" stroke="#1f1f1f" stroke-width="0.8" />
<line x1="666.9" y1="1075.9" x2="673.1" y2="1076.8" stroke="#1f1f1f" stroke-width="0.8" />
<line x1="666.9" y1="1078.2" x2="673.1" y2="1079.1" stroke="#1f1f1f" stroke-width="0.8" />
<line x1="666.9" y1="1080.5" x2="673.1" y2="1081.4" stroke="#1f1f1f" stroke-width="0.8" />
<path d="M662.4 1084.0 Q662.4 1079.5 667.4 1078.7 Q670.0 1078.1 672.6 1078.7 Q677.6 1079.5 677.6 1084.0 Q670.0 1090.0 662.4 1084.0 Z" fill="#bcbcbc" stroke="#1f1f1f" stroke-width="1.54" stroke-linejoin="round" stroke-linecap="round" />
<path d="M663.4 1083.7 Q670.0 1087.5 676.6 1083.7" fill="none" stroke="#666" stroke-width="0.9799999999999999" stroke-linejoin="round" stroke-linecap="round" />
<line x1="760.3" y1="841.8" x2="760.3" y2="851.0" stroke="#666" stroke-width="0.9" />
<line x1="582.3" y1="1026.7" x2="582.3" y2="1041.0" stroke="#666" stroke-width="0.9" />
<line x1="670.0" y1="1043.3" x2="670.0" y2="1063.0" stroke="#666" stroke-width="0.9" />
<polygon points="699.9,1072.8 707.8,1066.0 711.0,1065.5 712.0,1062.5 716.8,1061.5 722.0,1060.5 723.0,1057.5 728.0,1058.0 731.0,1060.0 737.0,1063.8 745.0,1066.0 751.6,1069.4 743.8,1076.0 728.0,1079.5 710.0,1078.4" fill="#8a8a8a" stroke="#1f1f1f" stroke-width="1.54" stroke-linejoin="round" />
<polygon points="703.0,1072.0 709.0,1067.5 718.0,1064.0 728.0,1061.5 735.0,1065.5 722.0,1068.0 712.0,1072.5" fill="#b4b4b4" stroke="#444" stroke-width="0.84" stroke-linejoin="round" />
<polyline points="704.0,1074.5 716.0,1072.0 730.0,1068.5 746.0,1070.0" fill="none" stroke="#333" stroke-width="1.1199999999999999" stroke-linejoin="round" stroke-linecap="round" />
<line x1="691.8" y1="626.0" x2="649.0" y2="679.0" stroke="#e4e4e4" stroke-width="1.3" stroke-dasharray="10 2 1.5 2"/>
<line x1="649.0" y1="679.0" x2="629.5" y2="703.0" stroke="#8a8a8a" stroke-width="1.0" />
<polyline points="722.0,668.0 675.3,688.3 675.0,709.0" fill="none" stroke="#e4e4e4" stroke-width="1.8199999999999998" stroke-linejoin="round" stroke-linecap="round" stroke-dasharray="10 2 1.5 2"/>
<polyline points="675.0,709.0 674.4,736.0 669.8,738.8" fill="none" stroke="#8a8a8a" stroke-width="1.4" stroke-linejoin="round" stroke-linecap="round" stroke-dasharray="10 2 1.5 2"/>
<line x1="685.4" y1="712.2" x2="691.8" y2="734.2" stroke="#777" stroke-width="0.9" />
<rect x="682.5" y="708.5" width="5.5" height="4.0" fill="#888" stroke="#222" stroke-width="0.7" />
</g>
</svg>
</body></html>
